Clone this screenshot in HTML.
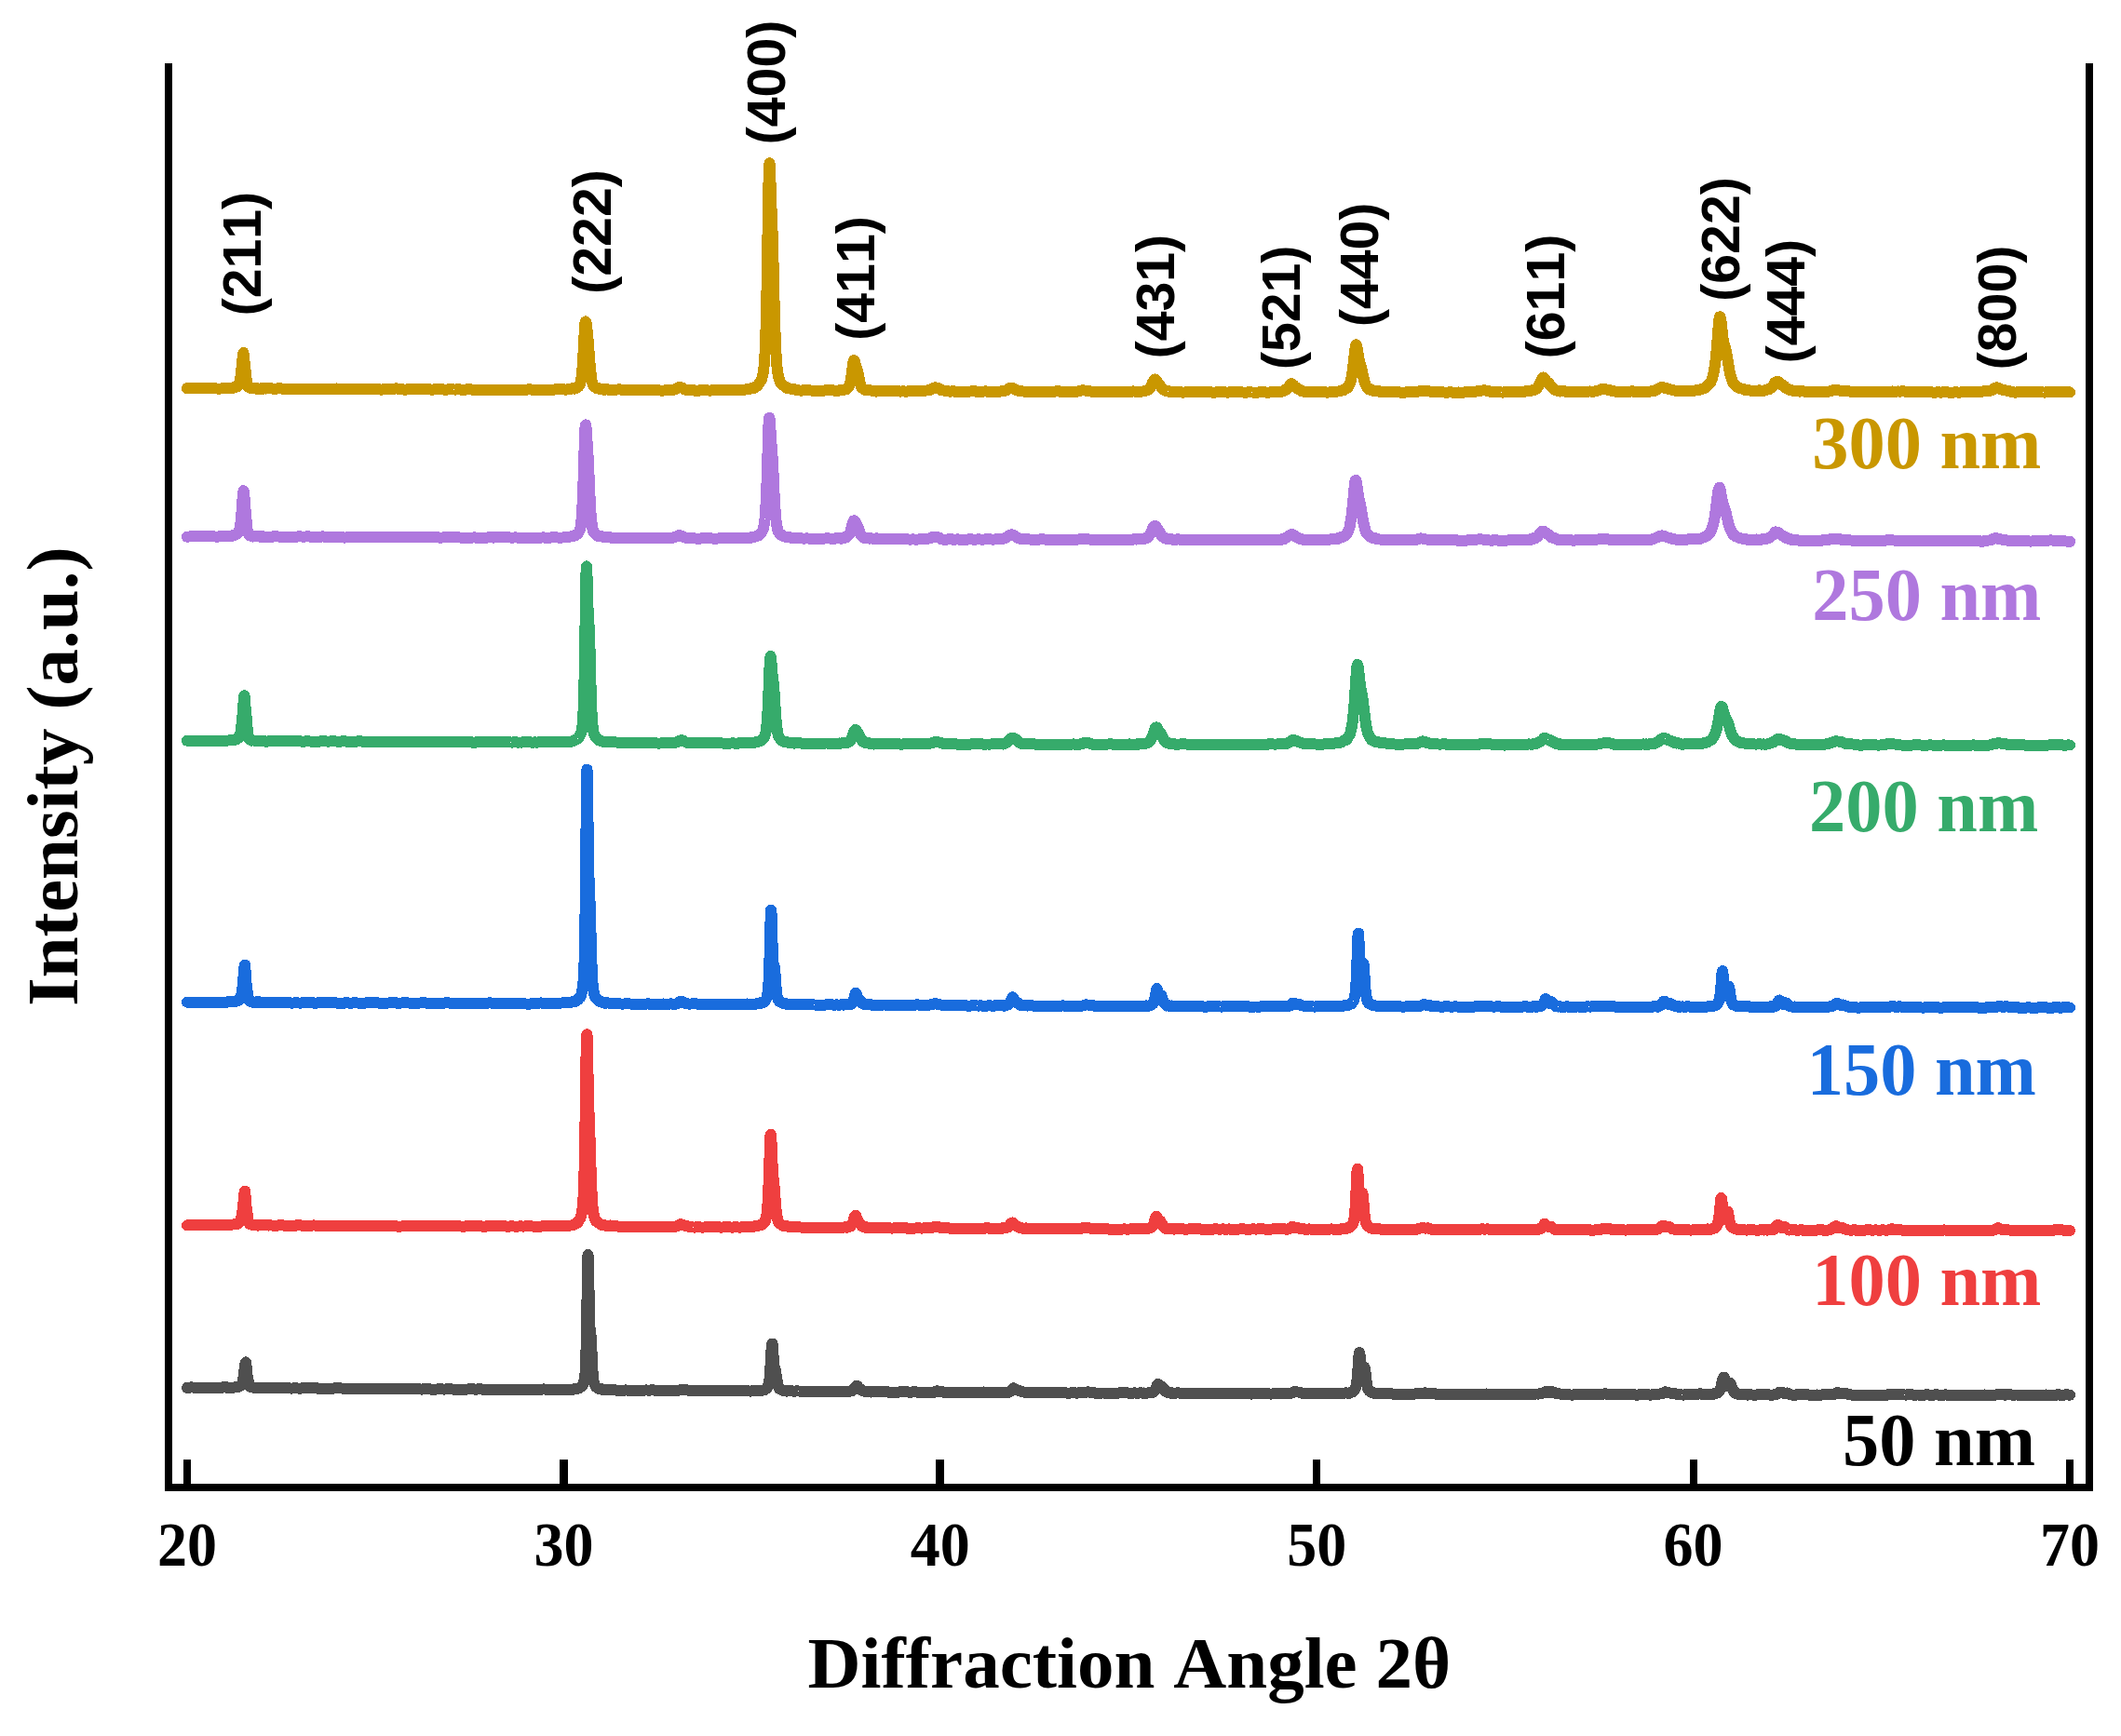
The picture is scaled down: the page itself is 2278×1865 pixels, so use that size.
<!DOCTYPE html>
<html lang="en"><head><meta charset="utf-8"><title>XRD patterns</title>
<style>html,body{margin:0;padding:0;background:#fff}body{width:2278px;height:1865px;overflow:hidden}svg{display:block}.ser{font-family:"Liberation Serif",serif;font-weight:bold}.san{font-family:"Liberation Sans",sans-serif;font-weight:bold}.cv{fill:none;stroke-width:12;stroke-linecap:round;stroke-linejoin:round}text{font-kerning:none}</style></head><body>
<svg width="2278" height="1865" viewBox="0 0 2278 1865">
<rect width="2278" height="1865" fill="#fff"/>
<path class="cv" shape-rendering="crispEdges" stroke="#4F4F4F" d="M201 1490.9L203 1490.7L205 1490.4L207 1490.5L209 1490.7L211 1490.6L213 1490.6L215 1490.7L217 1490.7L219 1490.7L221 1490.9L223 1490.9L225 1490.7L227 1490.8L229 1490.9L231 1490.7L233 1490.6L235 1490.8L237 1490.9L239 1490.5L241 1490.1L243 1490.2L244 1490.8L245 1491.2L246 1491.2L247 1491.1L248 1490.9L249 1490.8L250 1490.7L251 1490.5L252 1490.4L252.5 1490.2L253 1490.2L253.5 1490.3L254 1490.4L254.5 1490.3L255 1490.1L255.5 1490.0L256 1489.9L256.5 1489.7L257 1489.5L257.5 1489.2L258 1488.8L258.5 1488.4L259 1487.9L259.5 1487.2L260 1486.3L260.5 1484.8L261 1482.7L261.5 1479.7L262 1476.1L262.5 1471.9L263 1467.7L263.5 1464.5L264 1463.4L264.5 1467.6L265 1473.6L265.5 1477.6L266 1479.8L266.5 1482.1L267 1484.9L267.5 1487.2L268 1488.7L268.5 1489.3L269 1489.7L269.5 1490.1L270 1490.3L270.5 1490.2L271 1490.3L271.5 1490.5L272 1490.7L272.5 1490.8L273 1490.8L273.5 1491.0L274 1491.2L274.5 1491.2L275 1490.9L275.5 1490.8L276 1490.7L276.5 1490.9L277 1491.4L277.5 1491.3L278 1490.8L278.5 1490.8L279 1490.8L279.5 1490.6L280 1490.8L281 1491.1L282 1490.9L283 1490.8L284 1491.1L285 1491.2L286 1491.0L287 1491.0L288 1491.3L289 1491.3L290 1491.1L292 1491.2L294 1491.2L296 1490.9L298 1490.9L300 1490.8L302 1490.9L304 1491.2L306 1491.2L308 1491.2L310 1491.3L312 1491.5L314 1491.5L316 1491.3L318 1491.3L320 1491.5L322 1491.7L324 1491.4L326 1491.2L328 1491.3L330 1491.3L332 1491.5L334 1491.4L336 1491.1L338 1491.1L340 1491.3L342 1491.8L344 1492.2L346 1492.1L348 1491.8L350 1491.8L352 1491.9L354 1492.0L356 1491.9L358 1491.5L360 1491.3L362 1491.4L364 1491.5L366 1491.4L368 1491.6L370 1491.9L372 1492.0L374 1492.2L376 1492.2L378 1491.7L380 1491.5L382 1491.6L384 1491.7L386 1492.0L388 1492.0L390 1491.7L392 1491.7L394 1492.0L396 1492.2L398 1492.1L400 1492.1L402 1492.2L404 1492.1L406 1491.9L408 1491.9L410 1491.9L412 1492.1L414 1491.9L416 1491.6L418 1491.9L420 1492.2L422 1492.2L424 1492.0L426 1491.6L428 1491.6L430 1491.8L432 1491.9L434 1492.0L436 1491.9L438 1491.8L440 1492.2L442 1492.5L444 1492.3L446 1492.1L448 1492.1L450 1492.3L452 1492.5L454 1492.5L456 1492.1L458 1491.9L460 1492.1L462 1492.4L464 1492.7L466 1492.8L468 1492.6L470 1492.4L472 1492.3L474 1492.3L476 1492.5L478 1492.5L480 1492.3L482 1492.2L484 1492.3L486 1492.5L488 1492.7L490 1492.7L492 1492.5L494 1492.6L496 1492.5L498 1492.6L500 1492.7L502 1492.5L504 1492.4L506 1492.2L508 1492.2L510 1492.6L512 1492.6L514 1492.3L516 1492.2L518 1492.5L520 1492.9L522 1492.8L524 1492.6L526 1492.5L528 1492.5L530 1492.6L532 1492.9L534 1493.1L536 1493.0L538 1492.8L540 1492.9L542 1492.8L544 1492.6L546 1492.7L548 1492.8L550 1492.7L552 1492.8L554 1492.9L556 1492.8L558 1492.7L560 1492.9L562 1493.0L564 1493.0L566 1493.0L568 1493.0L570 1492.8L572 1492.7L574 1492.8L576 1492.9L578 1492.7L580 1492.7L582 1492.6L584 1492.4L586 1492.6L588 1492.9L590 1492.9L592 1492.9L594 1493.3L596 1493.4L598 1493.0L600 1492.8L602 1492.8L604 1493.0L606 1493.1L608 1493.1L610 1492.9L611 1492.8L612 1492.7L613 1492.7L614 1492.9L615 1492.8L616 1492.5L617 1492.1L618 1492.0L619 1491.9L620 1491.8L620.5 1491.8L621 1491.6L621.5 1491.3L622 1491.2L622.5 1491.0L623 1490.6L623.5 1490.1L624 1489.8L624.5 1489.7L625 1489.2L625.5 1488.4L626 1487.7L626.5 1486.5L627 1484.9L627.5 1483.1L628 1480.2L628.5 1475.2L629 1466.4L629.5 1451.2L630 1427.9L630.5 1397.0L631 1365.1L631.5 1348.1L632 1358.8L632.5 1385.7L633 1410.6L633.5 1425.8L634 1431.7L634.5 1434.2L635 1440.7L635.5 1451.9L636 1463.5L636.5 1472.8L637 1479.3L637.5 1483.2L638 1485.4L638.5 1486.8L639 1488.0L639.5 1489.1L640 1489.9L640.5 1490.3L641 1490.4L641.5 1490.8L642 1491.3L642.5 1491.5L643 1491.7L643.5 1491.8L644 1492.1L644.5 1492.2L645 1492.2L645.5 1492.1L646 1492.1L646.5 1492.4L647 1492.7L647.5 1492.6L648 1492.6L649 1492.7L650 1492.7L651 1492.7L652 1492.7L653 1492.9L654 1493.2L655 1493.0L656 1492.8L657 1493.0L658 1493.2L660 1493.3L662 1493.6L664 1493.7L666 1493.6L668 1493.9L670 1493.8L672 1493.4L674 1493.6L676 1493.8L678 1493.6L680 1493.7L682 1493.7L684 1493.7L686 1493.9L688 1494.0L690 1493.9L692 1493.6L694 1493.4L696 1493.6L698 1493.6L700 1493.3L702 1493.4L704 1493.9L706 1494.2L708 1494.3L710 1494.1L712 1493.9L714 1493.9L716 1494.0L718 1494.0L720 1493.8L722 1493.6L724 1493.7L726 1493.9L728 1493.7L730 1493.5L732 1493.1L734 1493.0L736 1493.1L738 1493.5L740 1493.6L742 1493.9L744 1494.2L746 1494.0L748 1493.8L750 1493.9L752 1494.0L754 1494.1L756 1494.2L758 1494.1L760 1494.1L762 1494.3L764 1494.2L766 1494.2L768 1494.3L770 1494.3L772 1494.3L774 1494.3L776 1494.3L778 1494.4L780 1494.4L782 1494.5L784 1494.4L786 1494.1L788 1493.9L790 1494.1L792 1494.3L794 1494.3L796 1494.2L798 1494.3L800 1494.3L802 1494.1L804 1494.4L806 1494.6L808 1494.3L809 1494.0L810 1494.0L811 1494.1L812 1493.7L813 1493.6L814 1494.0L815 1494.0L816 1493.9L817 1494.0L818 1493.8L818.5 1493.5L819 1493.5L819.5 1493.5L820 1493.4L820.5 1493.2L821 1493.2L821.5 1492.9L822 1492.4L822.5 1492.0L823 1491.9L823.5 1491.6L824 1490.8L824.5 1490.0L825 1489.0L825.5 1487.4L826 1484.9L826.5 1481.1L827 1475.7L827.5 1468.0L828 1458.7L828.5 1449.9L829 1443.9L829.5 1443.6L830 1448.9L830.5 1456.3L831 1462.7L831.5 1467.1L832 1469.6L832.5 1471.2L833 1473.1L833.5 1476.0L834 1479.3L834.5 1482.7L835 1485.7L835.5 1488.1L836 1489.7L836.5 1490.9L837 1491.7L837.5 1492.1L838 1492.5L838.5 1492.6L839 1492.7L839.5 1493.0L840 1493.4L840.5 1493.7L841 1493.5L841.5 1493.5L842 1493.8L842.5 1493.8L843 1493.7L843.5 1494.0L844 1494.2L844.5 1494.3L845 1494.6L845.5 1494.6L846.5 1494.4L847.5 1494.2L848.5 1494.1L849.5 1494.2L850.5 1494.4L851.5 1494.5L852.5 1494.6L853.5 1494.6L854.5 1494.5L855.5 1494.4L857.5 1494.5L859.5 1494.5L861.5 1494.6L863.5 1494.7L865.5 1494.9L867.5 1495.1L869.5 1494.9L871.5 1494.7L873.5 1494.8L875.5 1494.8L877.5 1494.9L879.5 1494.9L881.5 1495.0L883.5 1495.1L885.5 1495.0L887.5 1494.8L889.5 1494.9L891.5 1495.3L893.5 1495.5L895.5 1495.3L897.5 1495.1L899.5 1495.2L900.5 1495.1L901.5 1495.1L902.5 1495.2L903.5 1495.1L904.5 1495.0L905.5 1494.9L906.5 1494.8L907.5 1494.7L908.5 1494.8L909 1494.9L909.5 1494.8L910 1494.7L910.5 1494.7L911 1494.8L911.5 1494.9L912 1495.0L912.5 1494.8L913 1494.6L913.5 1494.4L914 1494.4L914.5 1494.2L915 1494.0L915.5 1493.9L916 1493.6L916.5 1493.2L917 1492.8L917.5 1492.3L918 1491.6L918.5 1490.8L919 1490.1L919.5 1489.3L920 1488.7L920.5 1488.9L921 1489.4L921.5 1489.9L922 1490.5L922.5 1491.1L923 1491.7L923.5 1491.9L924 1492.2L924.5 1492.6L925 1493.2L925.5 1493.6L926 1493.8L926.5 1493.9L927 1494.2L927.5 1494.4L928 1494.5L928.5 1494.7L929 1494.8L929.5 1494.8L930 1494.9L930.5 1494.9L931 1494.9L931.5 1494.9L932 1494.9L932.5 1494.9L933 1494.7L933.5 1494.6L934 1494.8L934.5 1495.0L935 1495.4L935.5 1495.6L936 1495.5L936.5 1495.4L937.5 1495.2L938.5 1495.3L939.5 1495.2L940.5 1495.1L941.5 1495.2L942.5 1495.1L943.5 1495.0L944.5 1495.3L945.5 1495.2L946.5 1495.2L948.5 1495.3L950.5 1495.0L952.5 1495.1L954.5 1495.8L956.5 1496.0L958.5 1495.7L960.5 1495.5L962.5 1495.5L964.5 1495.7L966.5 1495.2L968.5 1494.9L970.5 1495.2L972.5 1495.4L974.5 1495.4L976.5 1495.6L978.5 1495.6L980.5 1495.4L982.5 1495.4L984.5 1495.5L986.5 1495.8L988.5 1495.7L990.5 1495.5L992.5 1495.5L994.5 1495.6L996.5 1495.6L998.5 1495.7L1000.5 1495.9L1002.5 1495.9L1004.5 1495.0L1006.5 1494.4L1008.5 1494.7L1010.5 1494.9L1012.5 1495.4L1014.5 1495.8L1016.5 1495.9L1018.5 1495.8L1020.5 1495.8L1022.5 1496.1L1024.5 1496.2L1026.5 1496.0L1028.5 1495.9L1030.5 1495.8L1032.5 1495.7L1034.5 1495.7L1036.5 1495.9L1038.5 1495.8L1040.5 1495.9L1042.5 1496.0L1044.5 1496.1L1046.5 1496.1L1048.5 1496.4L1050.5 1496.3L1052.5 1496.0L1054.5 1495.7L1056.5 1495.5L1058.5 1495.6L1060.5 1495.7L1062.5 1495.7L1064.5 1496.0L1066.5 1496.3L1068.5 1496.2L1070.5 1495.8L1072.5 1495.8L1074.5 1496.0L1076.5 1496.1L1078.5 1496.2L1080.5 1496.1L1082.5 1495.9L1084.5 1495.2L1086.5 1493.4L1088.5 1491.3L1090.5 1492.3L1092.5 1493.3L1094.5 1493.9L1096.5 1494.7L1098.5 1495.3L1100.5 1495.7L1102.5 1495.9L1104.5 1496.1L1106.5 1496.2L1108.5 1496.2L1110.5 1496.3L1112.5 1496.4L1114.5 1496.3L1116.5 1496.0L1118.5 1495.7L1120.5 1496.0L1122.5 1496.3L1124.5 1496.2L1126.5 1496.0L1128.5 1495.9L1130.5 1496.0L1132.5 1496.0L1134.5 1496.0L1136.5 1496.1L1138.5 1496.3L1140.5 1496.3L1142.5 1496.3L1144.5 1496.4L1146.5 1496.6L1148.5 1496.6L1150.5 1496.3L1152.5 1496.3L1154.5 1496.4L1156.5 1496.6L1158.5 1496.4L1160.5 1496.2L1162.5 1496.4L1164.5 1496.3L1166.5 1495.6L1168.5 1495.4L1170.5 1495.6L1172.5 1495.7L1174.5 1496.1L1176.5 1496.6L1178.5 1496.8L1180.5 1496.9L1182.5 1496.6L1184.5 1496.5L1186.5 1496.6L1188.5 1496.8L1190.5 1496.9L1192.5 1496.9L1194.5 1497.0L1196.5 1497.1L1198.5 1496.9L1200.5 1496.6L1202.5 1496.3L1204.5 1496.1L1206.5 1496.2L1208.5 1496.4L1210.5 1496.4L1212.5 1496.7L1214.5 1496.9L1216.5 1496.6L1218.5 1496.4L1220.5 1496.6L1222.5 1496.7L1223.5 1496.5L1224.5 1496.4L1225.5 1496.4L1226.5 1496.6L1227.5 1496.7L1228.5 1496.5L1229.5 1496.6L1230.5 1496.7L1231.5 1496.6L1232.5 1496.5L1233 1496.4L1233.5 1496.4L1234 1496.4L1234.5 1496.3L1235 1496.4L1235.5 1496.1L1236 1495.7L1236.5 1495.5L1237 1495.6L1237.5 1495.8L1238 1495.9L1238.5 1495.8L1239 1495.4L1239.5 1494.8L1240 1494.2L1240.5 1493.7L1241 1492.7L1241.5 1491.2L1242 1490.1L1242.5 1489.1L1243 1487.9L1243.5 1487.1L1244 1487.3L1244.5 1488.0L1245 1488.6L1245.5 1489.4L1246 1490.2L1246.5 1490.4L1247 1490.1L1247.5 1489.9L1248 1489.8L1248.5 1489.9L1249 1490.6L1249.5 1491.2L1250 1491.8L1250.5 1492.7L1251 1493.5L1251.5 1494.2L1252 1494.8L1252.5 1495.3L1253 1495.6L1253.5 1495.7L1254 1495.9L1254.5 1496.1L1255 1496.4L1255.5 1496.5L1256 1496.4L1256.5 1496.4L1257 1496.6L1257.5 1496.3L1258 1496.1L1258.5 1496.2L1259 1496.4L1259.5 1496.6L1260 1496.7L1261 1496.8L1262 1496.5L1263 1496.6L1264 1496.5L1265 1496.3L1266 1496.4L1267 1496.6L1268 1496.7L1269 1496.9L1270 1497.0L1272 1497.1L1274 1497.2L1276 1497.0L1278 1496.8L1280 1496.8L1282 1496.7L1284 1496.9L1286 1497.0L1288 1497.1L1290 1497.2L1292 1497.2L1294 1497.1L1296 1496.8L1298 1496.9L1300 1497.2L1302 1497.0L1304 1496.7L1306 1496.6L1308 1496.7L1310 1496.8L1312 1496.8L1314 1496.5L1316 1496.5L1318 1496.6L1320 1496.6L1322 1496.7L1324 1496.9L1326 1497.0L1328 1497.0L1330 1497.0L1332 1497.3L1334 1497.3L1336 1497.2L1338 1497.0L1340 1497.0L1342 1497.3L1344 1497.6L1346 1497.2L1348 1496.8L1350 1496.6L1352 1496.6L1354 1496.9L1356 1497.2L1358 1497.3L1360 1497.4L1362 1497.4L1364 1497.5L1366 1497.5L1368 1497.4L1370 1497.4L1372 1497.3L1374 1497.0L1376 1497.0L1378 1497.2L1380 1497.0L1382 1496.7L1384 1496.9L1386 1496.9L1388 1496.3L1390 1495.2L1392 1495.3L1394 1495.5L1396 1495.7L1398 1496.6L1400 1497.2L1402 1497.3L1404 1497.3L1406 1497.2L1408 1497.2L1410 1497.2L1412 1497.2L1414 1497.3L1416 1497.3L1418 1497.2L1420 1497.1L1422 1497.1L1424 1497.0L1426 1497.1L1428 1497.4L1430 1497.3L1432 1497.1L1434 1497.0L1436 1497.1L1438 1497.4L1440 1497.3L1441 1497.1L1442 1497.1L1443 1496.9L1444 1496.6L1445 1496.4L1446 1496.3L1447 1496.7L1448 1496.9L1449 1496.8L1449.5 1496.4L1450 1496.0L1450.5 1495.9L1451 1495.9L1451.5 1495.7L1452 1495.3L1452.5 1495.3L1453 1495.2L1453.5 1494.7L1454 1494.0L1454.5 1493.3L1455 1492.8L1455.5 1492.0L1456 1490.6L1456.5 1488.7L1457 1486.0L1457.5 1482.1L1458 1476.8L1458.5 1470.1L1459 1462.6L1459.5 1456.1L1460 1453.1L1460.5 1454.9L1461 1460.4L1461.5 1466.9L1462 1472.4L1462.5 1476.2L1463 1477.8L1463.5 1477.4L1464 1475.4L1464.5 1472.4L1465 1469.6L1465.5 1468.7L1466 1470.5L1466.5 1474.7L1467 1479.4L1467.5 1483.4L1468 1486.7L1468.5 1489.4L1469 1491.4L1469.5 1492.6L1470 1493.4L1470.5 1494.2L1471 1494.5L1471.5 1494.8L1472 1495.3L1472.5 1495.6L1473 1495.8L1473.5 1496.2L1474 1496.5L1474.5 1496.5L1475 1496.5L1475.5 1496.4L1476 1496.5L1476.5 1496.8L1477.5 1497.2L1478.5 1497.2L1479.5 1497.0L1480.5 1497.2L1481.5 1497.2L1482.5 1496.8L1483.5 1496.9L1484.5 1497.3L1485.5 1497.4L1486.5 1497.3L1488.5 1497.4L1490.5 1497.2L1492.5 1497.1L1494.5 1497.4L1496.5 1497.7L1498.5 1497.8L1500.5 1497.8L1502.5 1497.7L1504.5 1497.6L1506.5 1497.6L1508.5 1497.6L1510.5 1497.7L1512.5 1497.7L1514.5 1497.6L1516.5 1497.6L1518.5 1497.6L1520.5 1497.4L1522.5 1497.2L1524.5 1497.2L1526.5 1497.1L1528.5 1496.8L1530.5 1496.4L1532.5 1496.7L1534.5 1496.9L1536.5 1496.9L1538.5 1497.0L1540.5 1497.1L1542.5 1497.6L1544.5 1498.0L1546.5 1497.9L1548.5 1497.8L1550.5 1497.7L1552.5 1497.9L1554.5 1498.2L1556.5 1498.0L1558.5 1497.8L1560.5 1498.0L1562.5 1498.1L1564.5 1497.8L1566.5 1497.6L1568.5 1497.7L1570.5 1497.9L1572.5 1497.8L1574.5 1497.7L1576.5 1497.9L1578.5 1498.2L1580.5 1498.1L1582.5 1498.2L1584.5 1498.3L1586.5 1498.0L1588.5 1498.0L1590.5 1498.1L1592.5 1498.0L1594.5 1497.6L1596.5 1497.5L1598.5 1497.7L1600.5 1497.8L1602.5 1498.1L1604.5 1498.2L1606.5 1498.1L1608.5 1498.1L1610.5 1497.7L1612.5 1497.6L1614.5 1497.9L1616.5 1498.0L1618.5 1498.2L1620.5 1498.1L1622.5 1497.9L1624.5 1497.9L1626.5 1497.9L1628.5 1497.8L1630.5 1497.9L1632.5 1498.0L1634.5 1498.1L1636.5 1498.1L1638.5 1498.2L1640.5 1498.1L1642.5 1497.8L1644.5 1497.6L1646.5 1497.6L1648.5 1497.6L1650.5 1497.5L1652.5 1497.5L1654.5 1497.2L1656.5 1496.7L1658.5 1496.4L1660.5 1494.9L1662.5 1494.8L1664.5 1495.9L1666.5 1495.4L1668.5 1495.4L1670.5 1496.7L1672.5 1497.3L1674.5 1497.4L1676.5 1497.6L1678.5 1498.1L1680.5 1498.5L1682.5 1498.3L1684.5 1498.3L1686.5 1498.5L1688.5 1498.6L1690.5 1498.3L1692.5 1498.0L1694.5 1498.2L1696.5 1498.2L1698.5 1498.0L1700.5 1498.0L1702.5 1497.9L1704.5 1498.2L1706.5 1498.4L1708.5 1498.2L1710.5 1497.9L1712.5 1498.0L1714.5 1498.2L1716.5 1498.3L1718.5 1498.1L1720.5 1497.8L1722.5 1497.5L1724.5 1497.4L1726.5 1497.8L1728.5 1497.8L1730.5 1497.6L1732.5 1497.8L1734.5 1498.1L1736.5 1498.3L1738.5 1498.4L1740.5 1498.3L1742.5 1498.2L1744.5 1498.3L1746.5 1498.3L1748.5 1498.1L1750.5 1498.1L1752.5 1498.2L1754.5 1498.2L1756.5 1498.5L1758.5 1498.7L1760.5 1498.4L1762.5 1498.0L1764.5 1498.1L1766.5 1498.3L1768.5 1498.3L1770.5 1498.4L1772.5 1498.6L1774.5 1498.4L1776.5 1498.0L1778.5 1497.9L1780.5 1497.8L1782.5 1497.5L1784.5 1497.3L1786.5 1496.4L1788.5 1495.3L1790.5 1495.8L1792.5 1496.5L1794.5 1496.6L1796.5 1496.7L1798.5 1497.2L1800.5 1497.6L1802.5 1498.0L1804.5 1498.3L1806.5 1498.5L1808.5 1498.5L1810.5 1498.2L1812.5 1498.1L1814.5 1498.3L1816.5 1498.2L1818.5 1498.2L1820.5 1498.3L1822.5 1498.0L1824.5 1497.5L1826.5 1497.4L1828.5 1497.8L1830.5 1498.4L1831.5 1498.4L1832.5 1498.1L1833.5 1497.9L1834.5 1497.9L1835.5 1498.0L1836.5 1497.9L1837.5 1498.1L1838.5 1498.2L1839.5 1497.9L1840 1497.5L1840.5 1497.3L1841 1497.4L1841.5 1497.2L1842 1497.0L1842.5 1497.0L1843 1496.8L1843.5 1496.7L1844 1496.5L1844.5 1496.3L1845 1496.2L1845.5 1495.8L1846 1495.3L1846.5 1494.6L1847 1493.6L1847.5 1492.8L1848 1491.4L1848.5 1489.4L1849 1487.3L1849.5 1485.2L1850 1483.0L1850.5 1481.2L1851 1480.0L1851.5 1479.5L1852 1480.5L1852.5 1482.6L1853 1484.5L1853.5 1486.0L1854 1487.3L1854.5 1488.3L1855 1488.7L1855.5 1488.9L1856 1488.3L1856.5 1487.1L1857 1486.3L1857.5 1485.8L1858 1485.7L1858.5 1486.4L1859 1487.7L1859.5 1489.0L1860 1490.4L1860.5 1491.8L1861 1493.0L1861.5 1494.2L1862 1494.6L1862.5 1494.9L1863 1495.6L1863.5 1496.2L1864 1496.7L1864.5 1496.9L1865 1496.6L1865.5 1496.6L1866 1497.1L1866.5 1497.6L1867 1497.8L1867.5 1497.8L1868.5 1497.8L1869.5 1497.6L1870.5 1497.6L1871.5 1497.9L1872.5 1498.2L1873.5 1498.2L1874.5 1498.2L1875.5 1498.4L1876.5 1498.6L1877.5 1498.3L1879.5 1498.3L1881.5 1498.5L1883.5 1498.6L1885.5 1498.6L1887.5 1498.3L1889.5 1498.2L1891.5 1498.4L1893.5 1498.3L1895.5 1498.1L1897.5 1498.1L1899.5 1498.3L1901.5 1498.7L1903.5 1498.7L1905.5 1498.4L1907.5 1497.9L1909.5 1496.9L1911.5 1495.5L1913.5 1495.5L1915.5 1496.7L1917.5 1497.0L1919.5 1496.5L1921.5 1497.4L1923.5 1498.3L1925.5 1498.7L1927.5 1498.9L1929.5 1498.4L1931.5 1498.1L1933.5 1498.3L1935.5 1498.3L1937.5 1498.1L1939.5 1498.0L1941.5 1498.3L1943.5 1498.6L1945.5 1498.6L1947.5 1498.7L1949.5 1498.6L1951.5 1498.5L1953.5 1498.7L1955.5 1498.6L1957.5 1498.3L1959.5 1498.1L1961.5 1498.1L1963.5 1498.2L1965.5 1498.2L1967.5 1498.2L1969.5 1497.9L1971.5 1497.0L1973.5 1496.1L1975.5 1496.5L1977.5 1497.4L1979.5 1497.5L1981.5 1497.1L1983.5 1497.3L1985.5 1497.9L1987.5 1498.3L1989.5 1498.7L1991.5 1498.8L1993.5 1498.7L1995.5 1498.7L1997.5 1498.7L1999.5 1498.7L2001.5 1498.9L2003.5 1499.1L2005.5 1499.1L2007.5 1499.0L2009.5 1498.9L2011.5 1498.7L2013.5 1498.5L2015.5 1498.5L2017.5 1498.7L2019.5 1498.9L2021.5 1498.9L2023.5 1498.8L2025.5 1498.8L2027.5 1498.4L2029.5 1498.1L2031.5 1498.2L2033.5 1498.0L2035.5 1497.9L2037.5 1498.1L2039.5 1498.1L2041.5 1497.8L2043.5 1498.0L2045.5 1498.5L2047.5 1498.5L2049.5 1498.3L2051.5 1498.1L2053.5 1498.4L2055.5 1498.6L2057.5 1498.6L2059.5 1498.5L2061.5 1498.5L2063.5 1498.6L2065.5 1498.7L2067.5 1498.5L2069.5 1498.4L2071.5 1498.5L2073.5 1498.8L2075.5 1498.8L2077.5 1498.5L2079.5 1498.4L2081.5 1498.5L2083.5 1498.8L2085.5 1498.9L2087.5 1498.7L2089.5 1498.4L2091.5 1498.6L2093.5 1498.8L2095.5 1498.9L2097.5 1498.8L2099.5 1498.7L2101.5 1498.8L2103.5 1499.0L2105.5 1498.9L2107.5 1498.6L2109.5 1498.6L2111.5 1498.8L2113.5 1498.7L2115.5 1498.8L2117.5 1499.0L2119.5 1499.0L2121.5 1499.0L2123.5 1498.9L2125.5 1498.7L2127.5 1498.9L2129.5 1498.7L2131.5 1498.5L2133.5 1498.7L2135.5 1498.9L2137.5 1498.8L2139.5 1498.8L2141.5 1498.8L2143.5 1498.5L2145.5 1498.2L2147.5 1497.8L2149.5 1497.8L2151.5 1498.4L2153.5 1498.6L2155.5 1497.9L2157.5 1497.8L2159.5 1498.4L2161.5 1498.6L2163.5 1498.6L2165.5 1498.5L2167.5 1498.5L2169.5 1498.7L2171.5 1498.8L2173.5 1498.7L2175.5 1498.8L2177.5 1498.9L2179.5 1499.0L2181.5 1499.2L2183.5 1499.0L2185.5 1498.9L2187.5 1499.0L2189.5 1499.0L2191.5 1498.8L2193.5 1498.8L2195.5 1498.7L2197.5 1498.5L2199.5 1498.6L2201.5 1498.7L2203.5 1498.9L2205.5 1499.0L2207.5 1498.8L2209.5 1498.4L2211.5 1498.4L2213.5 1498.8L2215.5 1498.8L2217.5 1498.5L2219.5 1498.4L2221.5 1498.5L2223 1498.7"/>
<path class="cv" shape-rendering="crispEdges" stroke="#EF3F3F" d="M201 1316.4L203 1316.1L205 1315.7L207 1315.5L209 1315.8L211 1316.0L213 1316.0L215 1316.2L217 1316.1L219 1315.9L221 1315.8L223 1316.0L225 1316.3L227 1316.2L229 1315.8L231 1315.8L233 1316.3L235 1316.5L237 1316.1L239 1316.0L241 1316.1L242 1316.1L243 1316.2L244 1316.4L245 1316.2L246 1316.0L247 1315.9L248 1315.7L249 1315.6L250 1315.5L251 1315.4L251.5 1315.3L252 1315.3L252.5 1315.2L253 1315.2L253.5 1315.1L254 1315.2L254.5 1315.0L255 1314.6L255.5 1314.5L256 1314.2L256.5 1313.6L257 1313.3L257.5 1313.0L258 1312.2L258.5 1311.0L259 1309.4L259.5 1307.2L260 1303.9L260.5 1300.2L261 1296.0L261.5 1291.0L262 1285.8L262.5 1281.5L263 1279.5L263.5 1283.9L264 1291.1L264.5 1296.7L265 1300.5L265.5 1303.8L266 1307.5L266.5 1310.6L267 1312.6L267.5 1313.9L268 1314.8L268.5 1314.9L269 1315.1L269.5 1315.5L270 1315.4L270.5 1315.5L271 1315.9L271.5 1316.0L272 1316.1L272.5 1316.2L273 1316.4L273.5 1316.4L274 1316.2L274.5 1316.0L275 1315.8L275.5 1315.8L276 1316.0L276.5 1316.0L277 1316.4L277.5 1316.6L278 1316.2L278.5 1316.0L279 1316.2L280 1316.3L281 1316.2L282 1316.2L283 1316.2L284 1316.4L285 1316.5L286 1316.3L287 1316.3L288 1316.5L289 1316.5L291 1316.4L293 1316.6L295 1316.7L297 1316.7L299 1316.4L301 1316.1L303 1316.3L305 1316.6L307 1316.6L309 1316.7L311 1317.1L313 1317.1L315 1316.9L317 1316.7L319 1316.2L321 1316.1L323 1316.5L325 1316.7L327 1316.7L329 1316.8L331 1316.7L333 1316.8L335 1316.6L337 1316.4L339 1316.6L341 1316.9L343 1316.9L345 1316.6L347 1316.5L349 1316.6L351 1316.8L353 1317.1L355 1316.9L357 1316.7L359 1316.8L361 1316.8L363 1316.6L365 1316.8L367 1317.1L369 1317.1L371 1316.8L373 1316.7L375 1316.6L377 1316.6L379 1316.9L381 1317.0L383 1316.8L385 1316.5L387 1316.6L389 1316.9L391 1316.9L393 1316.9L395 1317.0L397 1317.1L399 1316.8L401 1316.7L403 1316.6L405 1316.7L407 1317.0L409 1317.1L411 1317.0L413 1316.7L415 1316.7L417 1316.8L419 1316.9L421 1316.9L423 1316.9L425 1317.2L427 1317.6L429 1317.6L431 1317.5L433 1317.3L435 1317.2L437 1317.2L439 1317.2L441 1317.0L443 1316.9L445 1317.0L447 1317.2L449 1317.2L451 1317.1L453 1316.9L455 1316.9L457 1317.0L459 1317.3L461 1317.3L463 1317.2L465 1317.0L467 1316.7L469 1316.8L471 1317.2L473 1317.4L475 1317.1L477 1317.0L479 1317.0L481 1316.7L483 1316.7L485 1317.0L487 1317.2L489 1317.3L491 1317.5L493 1317.4L495 1317.5L497 1317.8L499 1317.6L501 1317.1L503 1317.2L505 1317.4L507 1317.1L509 1316.9L511 1316.9L513 1316.9L515 1317.0L517 1317.4L519 1317.8L521 1317.8L523 1317.3L525 1317.0L527 1317.2L529 1317.4L531 1317.4L533 1317.2L535 1317.1L537 1317.1L539 1317.0L541 1317.1L543 1317.5L545 1317.7L547 1317.6L549 1317.2L551 1317.4L553 1317.6L555 1317.5L557 1317.5L559 1317.4L561 1317.5L563 1317.5L565 1317.3L567 1317.2L569 1317.3L571 1317.4L573 1317.6L575 1317.7L577 1317.8L579 1317.8L581 1317.6L583 1317.3L585 1317.2L587 1317.1L589 1317.2L591 1317.3L593 1317.2L595 1317.3L597 1317.3L599 1317.1L601 1317.2L603 1317.5L605 1317.3L607 1316.8L609 1316.5L610 1316.5L611 1316.5L612 1316.6L613 1316.5L614 1316.4L615 1316.1L616 1315.5L617 1315.0L618 1314.7L619 1314.3L619.5 1313.9L620 1313.6L620.5 1313.4L621 1312.8L621.5 1312.0L622 1310.9L622.5 1310.1L623 1309.5L623.5 1308.4L624 1306.6L624.5 1304.8L625 1302.3L625.5 1298.9L626 1294.2L626.5 1286.8L627 1275.6L627.5 1259.0L628 1235.7L628.5 1205.6L629 1170.4L629.5 1135.9L630 1112.9L630.5 1111.2L631 1128.6L631.5 1153.8L632 1177.1L632.5 1195.0L633 1208.8L633.5 1222.1L634 1237.6L634.5 1254.1L635 1268.5L635.5 1280.3L636 1289.6L636.5 1296.3L637 1301.0L637.5 1304.0L638 1306.3L638.5 1308.1L639 1309.4L639.5 1310.5L640 1311.5L640.5 1312.2L641 1312.6L641.5 1313.0L642 1313.3L642.5 1313.5L643 1313.8L643.5 1314.2L644 1314.5L644.5 1314.9L645 1315.3L645.5 1315.8L646 1315.8L646.5 1315.5L647.5 1315.7L648.5 1316.1L649.5 1316.4L650.5 1316.7L651.5 1316.9L652.5 1317.0L653.5 1317.1L654.5 1316.8L655.5 1316.5L656.5 1316.6L658.5 1317.0L660.5 1317.1L662.5 1317.4L664.5 1317.7L666.5 1317.8L668.5 1317.8L670.5 1317.9L672.5 1317.9L674.5 1317.7L676.5 1317.7L678.5 1317.7L680.5 1317.9L682.5 1318.1L684.5 1317.6L686.5 1317.6L688.5 1317.9L690.5 1317.8L692.5 1317.8L694.5 1318.1L696.5 1318.2L698.5 1318.3L700.5 1318.1L702.5 1317.8L704.5 1318.0L706.5 1318.1L708.5 1317.9L710.5 1317.9L712.5 1318.2L714.5 1318.4L716.5 1318.2L718.5 1318.0L720.5 1318.3L722.5 1318.2L724.5 1317.9L726.5 1317.5L728.5 1316.6L730.5 1315.2L732.5 1315.5L734.5 1316.5L736.5 1316.9L738.5 1317.3L740.5 1317.9L742.5 1318.3L744.5 1318.5L746.5 1318.5L748.5 1318.3L750.5 1318.2L752.5 1318.5L754.5 1318.6L756.5 1318.5L758.5 1318.1L760.5 1317.9L762.5 1318.0L764.5 1318.1L766.5 1318.3L768.5 1318.3L770.5 1318.1L772.5 1318.3L774.5 1318.6L776.5 1318.5L778.5 1318.3L780.5 1318.4L782.5 1318.4L784.5 1318.5L786.5 1318.6L788.5 1318.4L790.5 1318.4L792.5 1318.5L794.5 1318.6L796.5 1318.4L798.5 1318.2L800.5 1318.1L802.5 1318.0L804.5 1317.9L806.5 1318.0L807.5 1318.0L808.5 1317.9L809.5 1317.6L810.5 1317.3L811.5 1317.4L812.5 1317.5L813.5 1317.2L814.5 1316.8L815.5 1316.4L816.5 1315.9L817 1315.7L817.5 1315.9L818 1315.8L818.5 1315.3L819 1314.8L819.5 1314.5L820 1314.3L820.5 1313.8L821 1313.2L821.5 1312.5L822 1311.2L822.5 1309.3L823 1307.2L823.5 1304.4L824 1300.0L824.5 1293.7L825 1285.1L825.5 1273.9L826 1260.0L826.5 1244.2L827 1229.4L827.5 1219.6L828 1218.7L828.5 1226.5L829 1238.6L829.5 1249.9L830 1258.7L830.5 1265.1L831 1269.8L831.5 1274.5L832 1280.2L832.5 1286.9L833 1293.4L833.5 1299.0L834 1303.4L834.5 1306.7L835 1309.0L835.5 1310.7L836 1312.4L836.5 1313.6L837 1314.2L837.5 1314.6L838 1314.7L838.5 1315.0L839 1315.4L839.5 1316.0L840 1316.2L840.5 1316.2L841 1316.3L841.5 1316.8L842 1317.3L842.5 1317.3L843 1317.2L843.5 1317.4L844 1317.5L845 1317.4L846 1317.3L847 1317.7L848 1318.2L849 1318.2L850 1317.9L851 1317.8L852 1318.0L853 1318.2L854 1318.2L856 1318.4L858 1318.4L860 1318.5L862 1318.7L864 1318.8L866 1318.8L868 1318.6L870 1318.6L872 1318.7L874 1318.9L876 1319.0L878 1318.9L880 1318.8L882 1318.9L884 1318.8L886 1318.6L888 1318.6L890 1318.8L892 1318.9L894 1318.9L896 1318.8L898 1318.6L899 1318.7L900 1318.9L901 1318.9L902 1318.7L903 1318.5L904 1318.5L905 1318.7L906 1318.5L907 1318.4L907.5 1318.3L908 1318.2L908.5 1318.5L909 1318.7L909.5 1318.6L910 1318.3L910.5 1318.0L911 1317.9L911.5 1318.0L912 1318.0L912.5 1317.8L913 1317.6L913.5 1317.5L914 1316.9L914.5 1316.0L915 1315.3L915.5 1314.6L916 1313.4L916.5 1311.7L917 1309.9L917.5 1308.3L918 1306.9L918.5 1306.0L919 1305.9L919.5 1306.6L920 1308.0L920.5 1309.4L921 1310.4L921.5 1311.5L922 1312.4L922.5 1313.0L923 1313.8L923.5 1314.5L924 1315.2L924.5 1315.7L925 1316.1L925.5 1317.0L926 1317.6L926.5 1317.7L927 1317.8L927.5 1317.8L928 1318.0L928.5 1318.3L929 1318.5L929.5 1318.7L930 1318.7L930.5 1318.5L931 1318.4L931.5 1318.9L932 1319.2L932.5 1318.9L933 1318.7L933.5 1319.1L934 1319.3L934.5 1318.9L935 1318.8L936 1319.0L937 1319.3L938 1319.4L939 1318.8L940 1318.6L941 1319.0L942 1319.0L943 1318.7L944 1318.9L945 1319.2L947 1319.2L949 1319.2L951 1319.3L953 1319.4L955 1319.4L957 1319.5L959 1319.5L961 1319.3L963 1319.4L965 1319.5L967 1319.3L969 1319.1L971 1319.1L973 1319.3L975 1319.7L977 1319.8L979 1319.8L981 1319.7L983 1319.5L985 1319.4L987 1319.4L989 1319.5L991 1319.5L993 1319.3L995 1319.4L997 1319.4L999 1319.2L1001 1318.8L1003 1318.2L1005 1317.7L1007 1318.1L1009 1318.5L1011 1319.0L1013 1319.4L1015 1319.3L1017 1319.2L1019 1319.4L1021 1319.7L1023 1319.6L1025 1319.5L1027 1319.7L1029 1319.9L1031 1320.0L1033 1320.0L1035 1319.8L1037 1319.7L1039 1319.8L1041 1320.0L1043 1320.1L1045 1320.0L1047 1319.8L1049 1319.7L1051 1319.7L1053 1319.8L1055 1320.1L1057 1320.0L1059 1319.3L1061 1319.2L1063 1319.7L1065 1319.8L1067 1319.6L1068 1319.5L1069 1319.6L1070 1319.7L1071 1319.7L1072 1319.8L1073 1319.9L1074 1319.8L1075 1319.8L1076 1319.8L1076.5 1319.5L1077 1319.1L1077.5 1319.1L1078 1319.4L1078.5 1319.3L1079 1319.2L1079.5 1319.2L1080 1319.1L1080.5 1319.0L1081 1318.7L1081.5 1318.6L1082 1318.7L1082.5 1318.4L1083 1318.2L1083.5 1318.0L1084 1317.5L1084.5 1316.5L1085 1315.4L1085.5 1314.6L1086 1314.2L1086.5 1313.9L1087 1313.6L1087.5 1313.5L1088 1313.9L1088.5 1314.4L1089 1315.0L1089.5 1315.6L1090 1316.1L1090.5 1316.4L1091 1316.7L1091.5 1316.9L1092 1317.2L1092.5 1317.6L1093 1318.0L1093.5 1318.3L1094 1318.4L1094.5 1318.6L1095 1318.9L1095.5 1318.9L1096 1319.0L1096.5 1319.1L1097 1319.1L1097.5 1319.2L1098 1319.5L1098.5 1319.7L1099 1319.8L1099.5 1319.7L1100 1319.8L1100.5 1320.1L1101 1320.3L1101.5 1319.9L1102 1319.4L1102.5 1319.6L1103 1320.2L1104 1320.4L1105 1320.0L1106 1319.8L1107 1320.0L1108 1319.9L1109 1319.8L1110 1319.9L1111 1319.8L1112 1319.9L1113 1320.1L1115 1319.8L1117 1320.0L1119 1320.3L1121 1320.1L1123 1319.8L1125 1319.9L1127 1320.0L1129 1319.8L1131 1319.7L1133 1319.7L1135 1319.9L1137 1320.3L1139 1320.2L1141 1320.1L1143 1320.1L1145 1320.0L1147 1320.0L1149 1320.4L1151 1320.4L1153 1320.2L1155 1320.4L1157 1320.5L1159 1320.4L1161 1320.0L1163 1319.3L1165 1318.6L1167 1318.7L1169 1319.2L1171 1319.6L1173 1320.0L1175 1320.2L1177 1320.2L1179 1320.0L1181 1320.1L1183 1320.4L1185 1320.5L1187 1320.2L1189 1320.2L1191 1320.6L1193 1320.8L1195 1320.8L1197 1320.7L1199 1320.5L1201 1320.7L1203 1320.9L1205 1320.6L1207 1320.4L1209 1320.5L1211 1320.7L1213 1320.5L1215 1320.2L1217 1320.1L1219 1319.8L1221 1319.5L1222 1319.6L1223 1319.8L1224 1320.1L1225 1320.2L1226 1320.2L1227 1320.4L1228 1320.5L1229 1320.0L1230 1319.9L1230.5 1320.4L1231 1320.5L1231.5 1319.9L1232 1319.5L1232.5 1319.6L1233 1319.8L1233.5 1319.8L1234 1319.5L1234.5 1319.4L1235 1319.2L1235.5 1318.8L1236 1318.7L1236.5 1318.8L1237 1318.5L1237.5 1318.0L1238 1317.5L1238.5 1316.7L1239 1315.3L1239.5 1313.8L1240 1312.0L1240.5 1310.2L1241 1308.5L1241.5 1307.1L1242 1306.7L1242.5 1307.6L1243 1308.9L1243.5 1310.1L1244 1311.2L1244.5 1311.7L1245 1312.0L1245.5 1311.8L1246 1311.4L1246.5 1311.8L1247 1313.0L1247.5 1313.9L1248 1314.7L1248.5 1316.0L1249 1317.0L1249.5 1317.4L1250 1318.0L1250.5 1318.7L1251 1319.1L1251.5 1319.3L1252 1319.7L1252.5 1319.9L1253 1320.1L1253.5 1320.4L1254 1320.4L1254.5 1320.5L1255 1320.3L1255.5 1320.1L1256 1320.2L1256.5 1320.4L1257 1320.4L1257.5 1320.2L1258 1319.9L1259 1319.9L1260 1320.2L1261 1320.6L1262 1320.5L1263 1320.1L1264 1320.1L1265 1320.3L1266 1320.4L1267 1320.4L1268 1320.2L1270 1320.2L1272 1320.6L1274 1320.7L1276 1320.5L1278 1320.4L1280 1320.3L1282 1320.3L1284 1320.5L1286 1320.4L1288 1320.2L1290 1320.5L1292 1320.9L1294 1320.9L1296 1320.7L1298 1320.7L1300 1320.9L1302 1320.7L1304 1320.4L1306 1320.4L1308 1320.5L1310 1320.6L1312 1320.5L1314 1320.4L1316 1320.7L1318 1320.6L1320 1320.4L1322 1320.7L1324 1320.8L1326 1320.8L1328 1320.7L1330 1320.6L1332 1320.4L1334 1320.2L1336 1320.4L1338 1320.6L1340 1320.8L1342 1320.8L1344 1320.5L1346 1320.3L1348 1320.5L1350 1320.5L1352 1320.3L1354 1320.4L1356 1320.4L1358 1320.5L1360 1320.7L1362 1320.9L1364 1320.8L1366 1320.5L1368 1320.3L1370 1320.1L1372 1320.2L1374 1320.4L1376 1320.3L1378 1320.1L1380 1320.5L1382 1320.7L1384 1320.2L1386 1319.3L1388 1317.8L1390 1318.4L1392 1319.0L1394 1319.1L1396 1319.9L1398 1320.0L1400 1320.3L1402 1320.9L1404 1320.8L1406 1320.4L1408 1320.6L1410 1320.8L1412 1320.6L1414 1320.5L1416 1320.9L1418 1320.9L1420 1320.8L1422 1320.7L1424 1320.6L1426 1320.6L1428 1320.6L1430 1320.4L1432 1320.6L1434 1320.7L1436 1320.7L1437 1320.8L1438 1320.9L1439 1320.8L1440 1320.5L1441 1320.3L1442 1320.2L1443 1319.9L1444 1319.7L1445 1319.8L1446 1319.8L1446.5 1319.5L1447 1319.1L1447.5 1319.2L1448 1319.3L1448.5 1319.1L1449 1318.9L1449.5 1318.4L1450 1318.1L1450.5 1317.8L1451 1317.3L1451.5 1316.7L1452 1316.3L1452.5 1315.7L1453 1314.7L1453.5 1313.2L1454 1311.2L1454.5 1308.5L1455 1304.1L1455.5 1298.1L1456 1289.9L1456.5 1279.5L1457 1268.1L1457.5 1258.7L1458 1255.9L1458.5 1261.0L1459 1270.5L1459.5 1280.4L1460 1288.5L1460.5 1293.6L1461 1295.2L1461.5 1294.0L1462 1290.7L1462.5 1286.3L1463 1282.4L1463.5 1281.9L1464 1286.1L1464.5 1292.3L1465 1298.6L1465.5 1304.1L1466 1308.5L1466.5 1311.7L1467 1313.5L1467.5 1314.7L1468 1315.7L1468.5 1316.7L1469 1317.5L1469.5 1317.8L1470 1317.8L1470.5 1318.0L1471 1318.5L1471.5 1318.9L1472 1319.0L1472.5 1319.2L1473 1319.6L1473.5 1319.7L1474 1319.6L1475 1319.5L1476 1319.8L1477 1320.1L1478 1320.1L1479 1320.2L1480 1320.3L1481 1320.3L1482 1320.5L1483 1320.6L1484 1320.6L1486 1320.6L1488 1320.8L1490 1320.9L1492 1320.9L1494 1321.1L1496 1320.9L1498 1320.6L1500 1321.1L1502 1321.3L1504 1321.0L1506 1320.8L1508 1320.7L1510 1320.6L1512 1320.8L1514 1321.0L1516 1320.9L1518 1321.2L1520 1321.1L1522 1320.4L1524 1319.8L1526 1319.5L1528 1319.1L1530 1319.5L1532 1319.5L1534 1319.4L1536 1320.2L1538 1320.8L1540 1320.7L1542 1320.8L1544 1321.0L1546 1320.9L1548 1320.9L1550 1321.2L1552 1321.1L1554 1320.9L1556 1321.0L1558 1321.1L1560 1321.1L1562 1321.1L1564 1321.3L1566 1321.1L1568 1320.7L1570 1320.7L1572 1321.0L1574 1321.1L1576 1321.3L1578 1321.3L1580 1321.0L1582 1320.8L1584 1320.9L1586 1321.0L1588 1321.1L1590 1320.6L1592 1320.3L1594 1320.6L1596 1320.5L1598 1320.4L1600 1320.8L1602 1321.2L1604 1321.4L1606 1321.4L1608 1321.3L1610 1321.2L1612 1321.1L1614 1321.2L1616 1321.3L1618 1321.1L1620 1321.1L1622 1321.3L1624 1321.2L1626 1321.1L1628 1321.0L1630 1320.8L1632 1320.9L1634 1321.3L1636 1321.2L1638 1320.8L1639 1320.8L1640 1321.1L1641 1320.9L1642 1321.0L1643 1321.2L1644 1321.1L1645 1321.0L1646 1321.0L1647 1320.9L1648 1320.9L1648.5 1321.0L1649 1321.0L1649.5 1320.9L1650 1321.0L1650.5 1321.2L1651 1321.2L1651.5 1320.9L1652 1320.5L1652.5 1320.3L1653 1320.2L1653.5 1320.3L1654 1320.3L1654.5 1320.2L1655 1319.7L1655.5 1319.3L1656 1318.9L1656.5 1318.3L1657 1317.6L1657.5 1317.0L1658 1316.0L1658.5 1315.0L1659 1314.8L1659.5 1315.3L1660 1315.9L1660.5 1316.5L1661 1316.9L1661.5 1317.1L1662 1317.4L1662.5 1317.6L1663 1317.7L1663.5 1317.7L1664 1317.7L1664.5 1317.6L1665 1317.5L1665.5 1317.5L1666 1317.8L1666.5 1318.5L1667 1318.8L1667.5 1318.9L1668 1319.5L1668.5 1319.9L1669 1320.1L1669.5 1320.4L1670 1320.8L1670.5 1320.7L1671 1320.6L1671.5 1320.6L1672 1320.6L1672.5 1320.6L1673 1320.6L1673.5 1320.7L1674 1320.8L1674.5 1321.1L1675 1321.1L1676 1321.0L1677 1320.9L1678 1321.0L1679 1321.3L1680 1321.2L1681 1321.0L1682 1321.1L1683 1321.1L1684 1321.0L1685 1321.1L1687 1321.1L1689 1320.8L1691 1320.7L1693 1320.9L1695 1321.0L1697 1320.9L1699 1321.3L1701 1321.4L1703 1321.2L1705 1321.1L1707 1321.3L1709 1321.7L1711 1321.8L1713 1321.4L1715 1321.1L1717 1321.1L1719 1320.9L1721 1320.1L1723 1319.5L1725 1320.2L1727 1320.5L1729 1320.3L1731 1320.7L1733 1321.1L1735 1321.2L1737 1321.3L1739 1321.4L1741 1321.3L1743 1321.2L1745 1321.5L1747 1321.5L1749 1321.3L1751 1321.2L1753 1320.9L1755 1320.7L1757 1321.0L1759 1321.4L1761 1321.4L1763 1320.9L1765 1320.6L1767 1320.7L1769 1321.2L1771 1321.2L1773 1320.9L1775 1321.0L1777 1321.1L1779 1321.0L1781 1320.1L1783 1318.8L1785 1317.1L1787 1316.7L1789 1318.1L1791 1318.3L1793 1318.2L1795 1319.6L1797 1320.5L1799 1320.7L1801 1321.0L1803 1321.1L1805 1320.9L1807 1321.0L1809 1321.2L1811 1321.3L1813 1321.4L1815 1321.5L1817 1321.5L1819 1321.3L1821 1321.2L1823 1321.1L1825 1321.0L1827 1321.1L1828 1321.2L1829 1321.3L1830 1321.5L1831 1321.4L1832 1321.0L1833 1320.6L1834 1320.4L1835 1320.6L1836 1320.8L1837 1320.8L1837.5 1320.6L1838 1320.4L1838.5 1320.3L1839 1320.2L1839.5 1320.0L1840 1319.6L1840.5 1319.3L1841 1319.2L1841.5 1319.3L1842 1319.2L1842.5 1318.7L1843 1318.1L1843.5 1317.8L1844 1317.1L1844.5 1315.9L1845 1313.9L1845.5 1311.5L1846 1309.0L1846.5 1305.6L1847 1301.0L1847.5 1295.5L1848 1290.2L1848.5 1287.0L1849 1287.4L1849.5 1291.0L1850 1296.3L1850.5 1301.2L1851 1305.0L1851.5 1307.6L1852 1309.3L1852.5 1309.8L1853 1309.3L1853.5 1308.1L1854 1306.1L1854.5 1303.9L1855 1302.2L1855.5 1301.5L1856 1302.7L1856.5 1305.5L1857 1308.6L1857.5 1311.2L1858 1313.4L1858.5 1315.1L1859 1316.5L1859.5 1317.6L1860 1318.4L1860.5 1318.7L1861 1318.6L1861.5 1318.9L1862 1319.3L1862.5 1319.6L1863 1319.9L1863.5 1320.1L1864 1320.2L1864.5 1320.2L1865 1320.6L1866 1320.9L1867 1321.0L1868 1321.1L1869 1321.1L1870 1320.9L1871 1320.9L1872 1321.1L1873 1321.3L1874 1321.4L1875 1321.5L1877 1321.5L1879 1321.1L1881 1321.0L1883 1321.3L1885 1321.5L1887 1321.6L1889 1321.6L1890 1321.5L1891 1321.3L1892 1321.3L1893 1321.3L1894 1321.5L1895 1321.5L1896 1321.3L1897 1321.4L1898 1321.7L1898.5 1321.3L1899 1321.0L1899.5 1320.8L1900 1320.9L1900.5 1321.2L1901 1321.0L1901.5 1320.8L1902 1320.6L1902.5 1320.5L1903 1320.8L1903.5 1320.8L1904 1320.8L1904.5 1320.9L1905 1320.6L1905.5 1320.3L1906 1320.1L1906.5 1319.7L1907 1318.9L1907.5 1318.0L1908 1317.3L1908.5 1316.9L1909 1316.3L1909.5 1315.9L1910 1316.0L1910.5 1316.4L1911 1316.9L1911.5 1317.4L1912 1318.0L1912.5 1318.3L1913 1318.7L1913.5 1318.9L1914 1319.0L1914.5 1319.2L1915 1319.0L1915.5 1318.4L1916 1318.2L1916.5 1318.0L1917 1318.1L1917.5 1318.3L1918 1318.6L1918.5 1319.1L1919 1319.5L1919.5 1319.8L1920 1320.1L1920.5 1320.6L1921 1321.0L1921.5 1321.5L1922 1321.5L1922.5 1321.1L1923 1320.9L1923.5 1320.7L1924 1320.8L1924.5 1320.9L1925 1320.8L1925.5 1320.8L1926 1321.2L1927 1321.3L1928 1321.2L1929 1321.4L1930 1321.8L1931 1321.7L1932 1321.5L1933 1321.5L1934 1321.2L1935 1321.2L1936 1321.5L1938 1321.9L1940 1321.9L1942 1321.9L1944 1321.9L1946 1321.7L1948 1321.6L1950 1321.8L1952 1321.5L1954 1321.1L1956 1321.1L1958 1321.5L1960 1321.9L1962 1321.7L1964 1321.4L1966 1320.9L1968 1319.8L1970 1318.1L1972 1317.3L1974 1318.9L1976 1319.4L1978 1319.0L1980 1319.6L1982 1320.6L1984 1321.2L1986 1321.5L1988 1321.7L1990 1321.4L1992 1321.3L1994 1321.8L1996 1322.1L1998 1322.0L2000 1322.0L2002 1321.9L2004 1321.4L2006 1321.1L2008 1321.3L2010 1321.6L2012 1321.6L2014 1321.4L2016 1321.5L2018 1321.8L2020 1321.6L2022 1321.3L2024 1321.5L2026 1321.7L2028 1321.4L2030 1320.7L2032 1320.3L2034 1320.9L2036 1321.2L2038 1320.9L2040 1321.0L2042 1321.5L2044 1321.6L2046 1321.5L2048 1321.5L2050 1321.6L2052 1321.6L2054 1321.9L2056 1322.2L2058 1322.2L2060 1321.9L2062 1322.0L2064 1322.0L2066 1321.8L2068 1321.9L2070 1322.4L2072 1322.4L2074 1322.2L2076 1321.9L2078 1321.5L2080 1321.5L2082 1321.8L2084 1322.0L2086 1321.8L2088 1321.4L2090 1321.6L2092 1321.8L2094 1321.7L2096 1321.8L2098 1322.0L2100 1322.0L2102 1322.0L2104 1322.2L2106 1322.1L2108 1321.8L2110 1321.6L2112 1321.6L2114 1321.7L2116 1321.7L2118 1321.5L2120 1321.6L2122 1321.9L2124 1322.2L2126 1322.1L2128 1322.0L2130 1322.1L2132 1322.0L2134 1322.0L2136 1322.1L2138 1321.9L2140 1321.7L2142 1321.3L2144 1320.2L2146 1319.3L2148 1320.1L2150 1320.9L2152 1320.9L2154 1320.7L2156 1321.2L2158 1321.5L2160 1321.6L2162 1321.9L2164 1322.1L2166 1322.1L2168 1321.9L2170 1321.9L2172 1321.9L2174 1321.9L2176 1322.1L2178 1321.9L2180 1322.0L2182 1322.4L2184 1322.2L2186 1322.0L2188 1322.0L2190 1321.9L2192 1321.9L2194 1321.7L2196 1321.7L2198 1321.9L2200 1322.2L2202 1322.2L2204 1322.1L2206 1321.4L2208 1320.7L2210 1321.1L2212 1321.3L2214 1321.2L2216 1321.5L2218 1322.0L2220 1322.0L2222 1322.1L2223 1322.1"/>
<path class="cv" shape-rendering="crispEdges" stroke="#196CDD" d="M201 1076.7L203 1076.6L205 1076.5L207 1076.5L209 1076.5L211 1076.5L213 1076.5L215 1076.6L217 1076.8L219 1077.1L221 1076.9L223 1076.8L225 1076.9L227 1076.7L229 1076.8L231 1076.9L233 1076.8L235 1076.5L237 1076.5L239 1076.8L241 1076.8L242 1076.7L243 1076.8L244 1076.6L245 1076.1L246 1075.8L247 1075.7L248 1075.7L249 1075.7L250 1075.8L251 1076.0L251.5 1076.0L252 1076.0L252.5 1075.8L253 1075.7L253.5 1075.6L254 1075.3L254.5 1075.2L255 1075.1L255.5 1074.9L256 1074.6L256.5 1074.5L257 1074.3L257.5 1073.7L258 1072.6L258.5 1071.5L259 1070.2L259.5 1067.9L260 1064.2L260.5 1060.1L261 1055.2L261.5 1048.9L262 1042.8L262.5 1038.2L263 1036.5L263.5 1042.5L264 1050.7L264.5 1056.7L265 1060.4L265.5 1064.1L266 1068.4L266.5 1071.6L267 1073.5L267.5 1074.7L268 1075.4L268.5 1075.5L269 1075.6L269.5 1075.9L270 1075.9L270.5 1076.0L271 1076.3L271.5 1076.7L272 1076.7L272.5 1076.5L273 1076.9L273.5 1077.1L274 1076.7L274.5 1076.6L275 1076.6L275.5 1076.5L276 1076.3L276.5 1076.3L277 1076.6L277.5 1077.0L278 1077.1L278.5 1076.6L279 1076.4L280 1076.7L281 1076.9L282 1076.9L283 1076.8L284 1076.6L285 1076.8L286 1077.1L287 1077.0L288 1076.9L289 1076.9L291 1076.8L293 1076.8L295 1076.9L297 1076.7L299 1076.7L301 1077.0L303 1077.1L305 1077.0L307 1076.9L309 1076.8L311 1077.2L313 1077.6L315 1077.5L317 1077.3L319 1077.3L321 1077.5L323 1077.6L325 1077.3L327 1077.0L329 1077.0L331 1077.2L333 1077.0L335 1077.0L337 1077.6L339 1077.7L341 1077.4L343 1077.2L345 1077.2L347 1077.2L349 1077.1L351 1076.9L353 1077.0L355 1077.1L357 1077.0L359 1077.0L361 1077.4L363 1077.7L365 1077.6L367 1077.6L369 1077.7L371 1077.3L373 1077.2L375 1077.6L377 1077.7L379 1077.4L381 1077.0L383 1077.4L385 1077.6L387 1077.6L389 1077.7L391 1077.8L393 1077.5L395 1077.1L397 1077.1L399 1077.3L401 1077.3L403 1077.2L405 1077.3L407 1077.6L409 1077.8L411 1077.6L413 1077.5L415 1077.7L417 1077.5L419 1077.2L421 1077.3L423 1077.2L425 1077.3L427 1077.8L429 1077.8L431 1077.5L433 1077.4L435 1077.5L437 1077.4L439 1077.5L441 1077.7L443 1077.8L445 1077.6L447 1077.5L449 1077.6L451 1077.5L453 1077.3L455 1077.3L457 1077.4L459 1077.7L461 1077.9L463 1077.7L465 1077.5L467 1077.6L469 1078.0L471 1078.0L473 1077.7L475 1077.7L477 1077.6L479 1077.3L481 1077.3L483 1077.6L485 1077.7L487 1077.7L489 1077.7L491 1077.8L493 1077.6L495 1077.5L497 1077.8L499 1077.9L501 1077.9L503 1078.0L505 1078.0L507 1077.7L509 1077.7L511 1078.1L513 1078.3L515 1078.1L517 1078.3L519 1078.5L521 1078.2L523 1077.8L525 1077.4L527 1077.4L529 1077.7L531 1078.0L533 1078.0L535 1077.9L537 1077.8L539 1077.8L541 1077.9L543 1078.0L545 1078.2L547 1078.1L549 1077.9L551 1077.7L553 1077.7L555 1077.9L557 1077.9L559 1078.1L561 1078.3L563 1078.3L565 1078.5L567 1078.7L569 1078.6L571 1078.3L573 1078.0L575 1077.9L577 1077.9L579 1077.6L581 1077.4L583 1077.9L585 1078.1L587 1078.0L589 1078.2L591 1078.1L593 1077.8L595 1077.8L597 1078.0L599 1077.8L601 1077.6L603 1077.5L605 1077.3L607 1077.1L609 1077.0L610 1077.1L611 1077.1L612 1077.0L613 1076.9L614 1076.6L615 1076.3L616 1076.2L617 1076.0L618 1075.7L619 1075.3L619.5 1074.8L620 1074.2L620.5 1074.0L621 1074.0L621.5 1073.1L622 1072.2L622.5 1071.9L623 1071.6L623.5 1070.5L624 1069.1L624.5 1067.5L625 1065.7L625.5 1063.1L626 1059.7L626.5 1054.9L627 1047.0L627.5 1034.0L628 1013.3L628.5 982.4L629 940.6L629.5 891.2L630 846.2L630.5 826.6L631 843.4L631.5 880.8L632 917.2L632.5 942.4L633 956.8L633.5 967.4L634 982.2L634.5 1001.7L635 1020.6L635.5 1035.9L636 1047.9L636.5 1056.3L637 1061.4L637.5 1064.9L638 1067.4L638.5 1069.0L639 1070.3L639.5 1071.5L640 1072.4L640.5 1072.9L641 1073.4L641.5 1073.7L642 1074.2L642.5 1074.7L643 1074.9L643.5 1075.3L644 1075.7L644.5 1076.0L645 1076.0L645.5 1075.9L646 1076.0L646.5 1076.3L647.5 1076.8L648.5 1077.5L649.5 1077.8L650.5 1077.6L651.5 1077.4L652.5 1077.4L653.5 1077.5L654.5 1077.7L655.5 1077.7L656.5 1077.6L658.5 1077.9L660.5 1078.1L662.5 1078.2L664.5 1078.4L666.5 1078.5L668.5 1078.6L670.5 1078.5L672.5 1078.4L674.5 1078.4L676.5 1078.5L678.5 1078.6L680.5 1078.6L682.5 1078.8L684.5 1078.9L686.5 1078.8L688.5 1078.6L690.5 1078.8L692.5 1078.8L694.5 1078.5L696.5 1078.4L698.5 1078.8L700.5 1078.9L702.5 1078.7L704.5 1078.7L706.5 1078.9L708.5 1078.8L710.5 1078.6L712.5 1078.5L714.5 1078.7L716.5 1078.9L718.5 1078.7L720.5 1078.4L722.5 1078.6L724.5 1078.8L726.5 1078.6L728.5 1077.6L730.5 1075.9L732.5 1075.9L734.5 1077.1L736.5 1077.9L738.5 1078.4L740.5 1078.6L742.5 1078.5L744.5 1078.4L746.5 1078.4L748.5 1078.5L750.5 1078.7L752.5 1078.9L754.5 1078.8L756.5 1078.9L758.5 1078.9L760.5 1078.9L762.5 1078.9L764.5 1078.8L766.5 1078.8L768.5 1079.2L770.5 1079.1L772.5 1078.9L774.5 1078.8L776.5 1078.7L778.5 1078.9L780.5 1079.0L782.5 1079.0L784.5 1079.2L786.5 1079.3L788.5 1079.1L790.5 1078.9L792.5 1078.9L794.5 1079.1L796.5 1079.2L798.5 1079.1L800.5 1078.8L802.5 1078.5L804.5 1078.7L806.5 1079.2L807.5 1079.3L808.5 1079.1L809.5 1078.9L810.5 1079.0L811.5 1078.8L812.5 1078.5L813.5 1078.1L814.5 1077.9L815.5 1078.0L816.5 1077.9L817 1077.6L817.5 1077.2L818 1076.8L818.5 1077.0L819 1077.3L819.5 1077.2L820 1076.6L820.5 1076.0L821 1075.4L821.5 1075.0L822 1074.7L822.5 1073.9L823 1073.1L823.5 1072.0L824 1069.9L824.5 1067.1L825 1063.0L825.5 1055.9L826 1044.8L826.5 1029.3L827 1009.9L827.5 990.1L828 977.8L828.5 980.8L829 995.6L829.5 1012.8L830 1026.3L830.5 1034.0L831 1036.9L831.5 1037.6L832 1040.2L832.5 1046.4L833 1053.8L833.5 1060.4L834 1065.5L834.5 1069.3L835 1071.7L835.5 1073.1L836 1074.3L836.5 1075.1L837 1075.5L837.5 1076.1L838 1076.5L838.5 1076.5L839 1076.6L839.5 1077.2L840 1077.5L840.5 1077.5L841 1077.9L841.5 1078.1L842 1077.7L842.5 1077.6L843 1078.1L843.5 1078.3L844 1078.5L844.5 1078.7L845.5 1078.8L846.5 1078.6L847.5 1078.6L848.5 1078.7L849.5 1078.8L850.5 1079.0L851.5 1079.0L852.5 1078.9L853.5 1079.0L854.5 1079.2L856.5 1079.3L858.5 1079.0L860.5 1078.9L862.5 1079.0L864.5 1079.2L866.5 1079.3L868.5 1079.4L870.5 1079.2L872.5 1079.4L874.5 1079.5L876.5 1079.5L878.5 1079.7L880.5 1080.1L882.5 1080.3L884.5 1080.0L886.5 1079.5L888.5 1079.2L890.5 1079.1L892.5 1079.2L894.5 1079.6L896.5 1079.6L898.5 1079.4L899.5 1079.5L900.5 1079.6L901.5 1079.7L902.5 1079.5L903.5 1079.3L904.5 1079.4L905.5 1079.6L906.5 1079.5L907.5 1079.3L908 1079.0L908.5 1079.1L909 1079.3L909.5 1079.4L910 1079.1L910.5 1079.3L911 1079.4L911.5 1079.1L912 1078.8L912.5 1078.7L913 1078.8L913.5 1078.9L914 1078.7L914.5 1078.5L915 1078.1L915.5 1077.4L916 1076.4L916.5 1075.2L917 1073.7L917.5 1071.9L918 1069.8L918.5 1067.7L919 1066.7L919.5 1067.1L920 1068.3L920.5 1070.1L921 1071.7L921.5 1072.6L922 1073.0L922.5 1073.5L923 1074.1L923.5 1074.8L924 1075.7L924.5 1076.2L925 1076.7L925.5 1077.5L926 1077.6L926.5 1077.6L927 1078.2L927.5 1078.6L928 1079.0L928.5 1079.3L929 1079.4L929.5 1079.1L930 1079.1L930.5 1079.4L931 1079.5L931.5 1079.3L932 1079.1L932.5 1079.2L933 1079.4L933.5 1079.5L934 1079.4L934.5 1079.2L935 1079.2L935.5 1079.5L936.5 1079.7L937.5 1079.9L938.5 1080.0L939.5 1079.7L940.5 1079.7L941.5 1080.0L942.5 1079.9L943.5 1079.8L944.5 1080.0L945.5 1079.9L947.5 1079.6L949.5 1079.5L951.5 1079.6L953.5 1079.9L955.5 1080.1L957.5 1080.2L959.5 1080.1L961.5 1079.7L963.5 1079.7L965.5 1079.7L967.5 1079.6L969.5 1079.6L971.5 1079.6L973.5 1079.6L975.5 1079.9L977.5 1080.1L979.5 1080.1L981.5 1079.9L983.5 1079.5L985.5 1079.3L987.5 1079.7L989.5 1079.9L991.5 1079.9L993.5 1079.9L995.5 1079.7L997.5 1079.6L999.5 1079.4L1001.5 1079.1L1003.5 1078.4L1005.5 1078.2L1007.5 1079.1L1009.5 1079.3L1011.5 1079.8L1013.5 1080.3L1015.5 1080.2L1017.5 1080.0L1019.5 1080.1L1021.5 1080.2L1023.5 1080.3L1025.5 1080.1L1027.5 1079.8L1029.5 1079.7L1031.5 1079.8L1033.5 1080.1L1035.5 1080.1L1037.5 1080.2L1039.5 1080.7L1041.5 1080.7L1043.5 1080.4L1045.5 1080.3L1047.5 1080.3L1049.5 1080.5L1051.5 1080.5L1053.5 1080.4L1055.5 1080.6L1057.5 1080.8L1059.5 1080.6L1061.5 1080.3L1063.5 1080.4L1065.5 1080.6L1067.5 1080.6L1068.5 1080.5L1069.5 1080.1L1070.5 1080.0L1071.5 1080.3L1072.5 1080.3L1073.5 1080.0L1074.5 1080.1L1075.5 1080.2L1076.5 1080.1L1077 1080.1L1077.5 1080.3L1078 1080.6L1078.5 1080.7L1079 1080.5L1079.5 1080.3L1080 1080.2L1080.5 1079.9L1081 1079.7L1081.5 1079.6L1082 1079.3L1082.5 1079.4L1083 1079.2L1083.5 1078.9L1084 1078.3L1084.5 1077.3L1085 1076.5L1085.5 1075.7L1086 1074.6L1086.5 1073.4L1087 1072.1L1087.5 1071.4L1088 1071.6L1088.5 1072.4L1089 1073.4L1089.5 1074.5L1090 1075.3L1090.5 1075.5L1091 1075.8L1091.5 1076.3L1092 1076.5L1092.5 1076.9L1093 1077.6L1093.5 1078.1L1094 1078.5L1094.5 1078.7L1095 1078.9L1095.5 1079.5L1096 1079.9L1096.5 1079.9L1097 1079.9L1097.5 1080.1L1098 1080.2L1098.5 1080.1L1099 1080.0L1099.5 1080.0L1100 1080.1L1100.5 1080.1L1101 1080.2L1101.5 1080.4L1102 1080.0L1102.5 1080.1L1103 1080.5L1103.5 1080.6L1104 1080.5L1105 1080.3L1106 1080.3L1107 1080.5L1108 1080.4L1109 1080.4L1110 1080.6L1111 1080.7L1112 1080.5L1113 1080.6L1114 1080.9L1116 1081.0L1118 1080.9L1120 1080.8L1122 1080.8L1124 1081.0L1126 1081.1L1128 1081.1L1130 1081.2L1132 1081.0L1134 1080.9L1136 1081.1L1138 1081.0L1140 1080.5L1142 1080.4L1144 1080.8L1146 1080.8L1148 1081.0L1150 1081.2L1152 1081.0L1154 1080.9L1156 1081.0L1158 1080.8L1160 1080.7L1162 1080.6L1164 1080.2L1166 1079.4L1168 1079.5L1170 1079.7L1172 1079.9L1174 1080.3L1176 1080.7L1178 1080.7L1180 1080.5L1182 1080.5L1184 1080.6L1186 1080.7L1188 1081.0L1190 1081.2L1192 1080.9L1194 1080.8L1196 1080.9L1198 1081.0L1200 1081.0L1202 1081.0L1204 1080.7L1206 1080.7L1208 1081.2L1210 1081.3L1212 1081.1L1214 1081.0L1216 1081.2L1218 1081.3L1220 1081.1L1222 1080.9L1223 1080.9L1224 1080.8L1225 1081.0L1226 1081.0L1227 1081.0L1228 1081.0L1229 1080.6L1230 1080.6L1231 1080.5L1231.5 1080.4L1232 1080.7L1232.5 1080.9L1233 1080.7L1233.5 1080.5L1234 1080.5L1234.5 1080.3L1235 1080.2L1235.5 1080.3L1236 1080.0L1236.5 1079.7L1237 1079.5L1237.5 1079.0L1238 1078.4L1238.5 1078.1L1239 1077.3L1239.5 1075.8L1240 1074.0L1240.5 1071.8L1241 1069.0L1241.5 1066.1L1242 1063.3L1242.5 1062.0L1243 1063.0L1243.5 1065.2L1244 1067.6L1244.5 1069.4L1245 1069.9L1245.5 1070.1L1246 1070.4L1246.5 1070.0L1247 1069.3L1247.5 1069.5L1248 1070.9L1248.5 1072.7L1249 1074.6L1249.5 1076.1L1250 1077.0L1250.5 1077.6L1251 1078.4L1251.5 1078.9L1252 1079.1L1252.5 1079.8L1253 1080.4L1253.5 1080.1L1254 1079.9L1254.5 1080.3L1255 1080.4L1255.5 1080.6L1256 1081.0L1256.5 1081.1L1257 1081.0L1257.5 1081.0L1258 1080.7L1258.5 1080.5L1259.5 1080.6L1260.5 1080.8L1261.5 1080.9L1262.5 1081.0L1263.5 1081.2L1264.5 1081.2L1265.5 1081.0L1266.5 1081.0L1267.5 1081.2L1268.5 1081.3L1270.5 1080.9L1272.5 1080.8L1274.5 1081.0L1276.5 1080.9L1278.5 1080.9L1280.5 1081.1L1282.5 1081.1L1284.5 1081.0L1286.5 1081.2L1288.5 1081.4L1290.5 1081.4L1292.5 1081.5L1294.5 1081.8L1296.5 1081.5L1298.5 1081.1L1300.5 1080.8L1302.5 1080.9L1304.5 1081.2L1306.5 1081.2L1308.5 1081.2L1310.5 1081.5L1312.5 1081.5L1314.5 1081.3L1316.5 1081.2L1318.5 1081.3L1320.5 1081.2L1322.5 1080.9L1324.5 1081.0L1326.5 1081.4L1328.5 1081.3L1330.5 1080.9L1332.5 1081.1L1334.5 1081.4L1336.5 1081.4L1338.5 1081.4L1340.5 1081.3L1342.5 1081.6L1344.5 1081.7L1346.5 1081.6L1348.5 1081.5L1350.5 1081.6L1352.5 1081.7L1354.5 1081.4L1356.5 1081.2L1358.5 1081.2L1360.5 1081.3L1362.5 1081.3L1364.5 1081.2L1366.5 1081.3L1368.5 1081.4L1370.5 1081.2L1372.5 1081.2L1374.5 1081.4L1376.5 1081.2L1378.5 1081.1L1380.5 1081.2L1382.5 1081.1L1384.5 1080.8L1386.5 1080.0L1388.5 1077.6L1390.5 1078.1L1392.5 1079.3L1394.5 1078.6L1396.5 1079.6L1398.5 1080.3L1400.5 1080.7L1402.5 1080.8L1404.5 1080.8L1406.5 1080.8L1408.5 1081.1L1410.5 1081.5L1412.5 1081.5L1414.5 1081.2L1416.5 1081.2L1418.5 1081.5L1420.5 1081.2L1422.5 1081.1L1424.5 1081.0L1426.5 1080.8L1428.5 1080.8L1430.5 1081.1L1432.5 1081.3L1434.5 1081.1L1436.5 1081.1L1438.5 1081.1L1439.5 1080.9L1440.5 1080.7L1441.5 1080.8L1442.5 1080.6L1443.5 1080.2L1444.5 1080.2L1445.5 1080.4L1446.5 1080.2L1447.5 1079.9L1448 1080.0L1448.5 1079.9L1449 1079.4L1449.5 1079.0L1450 1078.9L1450.5 1078.7L1451 1078.5L1451.5 1078.4L1452 1077.7L1452.5 1076.7L1453 1076.1L1453.5 1075.5L1454 1074.5L1454.5 1072.8L1455 1070.6L1455.5 1067.5L1456 1062.6L1456.5 1055.1L1457 1044.9L1457.5 1031.8L1458 1017.2L1458.5 1005.3L1459 1002.6L1459.5 1010.5L1460 1023.5L1460.5 1035.9L1461 1045.3L1461.5 1050.9L1462 1052.6L1462.5 1051.1L1463 1046.9L1463.5 1040.8L1464 1035.6L1464.5 1035.1L1465 1040.4L1465.5 1048.5L1466 1056.5L1466.5 1063.0L1467 1067.6L1467.5 1071.0L1468 1073.6L1468.5 1075.3L1469 1076.0L1469.5 1076.7L1470 1077.7L1470.5 1078.0L1471 1078.1L1471.5 1078.4L1472 1078.6L1472.5 1079.1L1473 1079.3L1473.5 1079.4L1474 1079.7L1474.5 1080.0L1475 1080.2L1476 1080.3L1477 1080.4L1478 1080.5L1479 1080.7L1480 1081.0L1481 1081.2L1482 1081.0L1483 1081.0L1484 1081.4L1485 1081.5L1487 1081.3L1489 1081.3L1491 1081.3L1493 1081.0L1495 1081.1L1497 1081.4L1499 1081.5L1501 1081.4L1503 1081.3L1505 1081.5L1507 1081.7L1509 1081.5L1511 1081.2L1513 1081.1L1515 1081.3L1517 1081.3L1519 1081.1L1521 1081.2L1523 1081.3L1525 1081.0L1527 1080.0L1529 1079.0L1531 1079.6L1533 1079.8L1535 1079.8L1537 1080.8L1539 1081.2L1541 1081.1L1543 1081.2L1545 1081.4L1547 1081.6L1549 1081.8L1551 1081.5L1553 1081.1L1555 1081.3L1557 1081.5L1559 1081.5L1561 1081.5L1563 1081.4L1565 1081.5L1567 1081.8L1569 1082.0L1571 1082.0L1573 1081.9L1575 1081.8L1577 1081.6L1579 1081.5L1581 1081.6L1583 1081.6L1585 1081.3L1587 1081.1L1589 1081.4L1591 1081.4L1593 1080.9L1595 1081.2L1597 1081.4L1599 1081.2L1601 1081.2L1603 1081.5L1605 1081.6L1607 1081.4L1609 1081.2L1611 1081.4L1613 1081.9L1615 1082.0L1617 1081.9L1619 1081.9L1621 1081.7L1623 1081.7L1625 1082.0L1627 1081.8L1629 1081.7L1631 1081.8L1633 1081.9L1635 1081.6L1637 1081.2L1639 1081.1L1640 1081.4L1641 1081.8L1642 1081.9L1643 1081.6L1644 1081.5L1645 1081.7L1646 1081.6L1647 1081.3L1648 1081.2L1649 1081.5L1649.5 1081.7L1650 1081.8L1650.5 1081.6L1651 1081.4L1651.5 1081.3L1652 1081.0L1652.5 1081.1L1653 1081.2L1653.5 1080.8L1654 1080.7L1654.5 1080.9L1655 1080.7L1655.5 1080.4L1656 1080.4L1656.5 1079.8L1657 1078.9L1657.5 1078.2L1658 1077.4L1658.5 1076.5L1659 1075.2L1659.5 1073.6L1660 1073.2L1660.5 1073.7L1661 1074.3L1661.5 1075.1L1662 1076.1L1662.5 1077.0L1663 1077.5L1663.5 1077.8L1664 1077.8L1664.5 1077.4L1665 1076.8L1665.5 1076.3L1666 1076.2L1666.5 1076.5L1667 1077.2L1667.5 1077.9L1668 1078.5L1668.5 1078.9L1669 1079.4L1669.5 1079.8L1670 1080.0L1670.5 1080.5L1671 1081.1L1671.5 1081.3L1672 1081.3L1672.5 1081.2L1673 1081.2L1673.5 1081.5L1674 1081.5L1674.5 1081.3L1675 1081.2L1675.5 1081.4L1676 1081.7L1676.5 1081.8L1677.5 1081.6L1678.5 1081.5L1679.5 1081.5L1680.5 1081.5L1681.5 1081.5L1682.5 1081.3L1683.5 1081.4L1684.5 1081.8L1685.5 1081.9L1686.5 1081.6L1688.5 1081.6L1690.5 1081.7L1692.5 1081.6L1694.5 1081.5L1696.5 1081.5L1698.5 1081.5L1700.5 1081.5L1702.5 1081.6L1704.5 1081.4L1706.5 1081.5L1708.5 1081.5L1710.5 1081.4L1712.5 1081.4L1714.5 1081.2L1716.5 1081.2L1718.5 1081.2L1720.5 1081.0L1722.5 1080.5L1724.5 1080.5L1726.5 1080.9L1728.5 1080.9L1730.5 1080.9L1732.5 1081.2L1734.5 1081.5L1736.5 1081.7L1738.5 1081.8L1740.5 1081.8L1742.5 1081.8L1744.5 1081.7L1746.5 1081.7L1748.5 1081.6L1750.5 1081.8L1752.5 1081.9L1754.5 1081.8L1756.5 1081.8L1758.5 1081.9L1760.5 1081.7L1762.5 1081.7L1764.5 1081.8L1766.5 1081.9L1767.5 1082.1L1768.5 1082.0L1769.5 1081.9L1770.5 1081.9L1771.5 1082.0L1772.5 1082.1L1773.5 1081.9L1774.5 1081.5L1775.5 1081.4L1776.5 1081.3L1777 1081.4L1777.5 1081.4L1778 1081.2L1778.5 1081.0L1779 1081.1L1779.5 1081.3L1780 1081.4L1780.5 1081.7L1781 1081.5L1781.5 1081.0L1782 1080.8L1782.5 1080.6L1783 1080.2L1783.5 1079.9L1784 1079.7L1784.5 1079.3L1785 1078.6L1785.5 1077.9L1786 1076.9L1786.5 1075.9L1787 1075.6L1787.5 1075.6L1788 1075.7L1788.5 1076.4L1789 1077.3L1789.5 1077.7L1790 1077.8L1790.5 1078.1L1791 1078.4L1791.5 1078.7L1792 1078.7L1792.5 1078.4L1793 1078.0L1793.5 1078.0L1794 1078.4L1794.5 1078.6L1795 1078.9L1795.5 1079.4L1796 1079.4L1796.5 1079.6L1797 1080.2L1797.5 1080.4L1798 1080.3L1798.5 1080.5L1799 1080.9L1799.5 1081.1L1800 1081.1L1800.5 1081.1L1801 1081.3L1801.5 1081.4L1802 1081.6L1802.5 1081.7L1803 1081.4L1803.5 1081.3L1804 1081.5L1805 1081.6L1806 1081.5L1807 1081.4L1808 1081.6L1809 1081.7L1810 1081.8L1811 1081.6L1812 1081.3L1813 1081.3L1814 1081.5L1816 1081.8L1818 1081.7L1820 1081.5L1822 1081.5L1824 1081.7L1826 1082.1L1828 1081.9L1829 1081.5L1830 1081.5L1831 1081.8L1832 1081.8L1833 1081.5L1834 1081.4L1835 1081.4L1836 1081.3L1837 1081.1L1838 1081.0L1838.5 1081.1L1839 1081.1L1839.5 1080.7L1840 1080.6L1840.5 1080.8L1841 1080.7L1841.5 1080.5L1842 1080.1L1842.5 1080.0L1843 1079.7L1843.5 1079.2L1844 1078.9L1844.5 1078.4L1845 1078.0L1845.5 1077.2L1846 1075.6L1846.5 1073.8L1847 1071.4L1847.5 1068.1L1848 1063.8L1848.5 1058.0L1849 1051.1L1849.5 1045.4L1850 1043.3L1850.5 1045.7L1851 1051.2L1851.5 1057.3L1852 1062.2L1852.5 1065.8L1853 1068.3L1853.5 1069.8L1854 1069.9L1854.5 1068.8L1855 1066.8L1855.5 1064.2L1856 1061.3L1856.5 1059.6L1857 1060.0L1857.5 1062.4L1858 1066.0L1858.5 1069.5L1859 1072.4L1859.5 1074.6L1860 1076.1L1860.5 1077.5L1861 1078.9L1861.5 1079.6L1862 1079.6L1862.5 1079.6L1863 1079.7L1863.5 1080.0L1864 1080.3L1864.5 1080.6L1865 1080.7L1865.5 1080.7L1866 1081.0L1867 1081.3L1868 1081.4L1869 1081.5L1870 1081.4L1871 1081.3L1872 1081.4L1873 1081.4L1874 1081.4L1875 1081.5L1876 1081.4L1878 1081.3L1880 1081.7L1882 1081.8L1884 1081.7L1886 1081.7L1888 1081.7L1890 1081.7L1891 1081.8L1892 1081.6L1893 1081.5L1894 1081.7L1895 1082.0L1896 1081.9L1897 1081.9L1898 1081.9L1899 1081.9L1900 1082.0L1900.5 1081.9L1901 1081.6L1901.5 1081.4L1902 1081.3L1902.5 1081.4L1903 1081.8L1903.5 1082.0L1904 1081.7L1904.5 1081.4L1905 1081.0L1905.5 1080.6L1906 1080.5L1906.5 1080.7L1907 1080.8L1907.5 1080.4L1908 1079.8L1908.5 1079.1L1909 1078.0L1909.5 1077.0L1910 1075.9L1910.5 1074.9L1911 1074.5L1911.5 1074.7L1912 1075.3L1912.5 1076.0L1913 1076.7L1913.5 1077.4L1914 1078.1L1914.5 1078.7L1915 1079.1L1915.5 1079.0L1916 1078.7L1916.5 1078.5L1917 1078.1L1917.5 1077.7L1918 1077.5L1918.5 1077.4L1919 1077.9L1919.5 1078.7L1920 1079.3L1920.5 1079.6L1921 1079.8L1921.5 1080.4L1922 1080.8L1922.5 1080.9L1923 1081.1L1923.5 1081.3L1924 1081.4L1924.5 1081.5L1925 1081.6L1925.5 1081.7L1926 1081.8L1926.5 1082.0L1927 1081.8L1927.5 1081.5L1928.5 1081.6L1929.5 1082.0L1930.5 1082.2L1931.5 1082.0L1932.5 1081.8L1933.5 1082.0L1934.5 1082.2L1935.5 1082.2L1936.5 1082.1L1937.5 1082.0L1939.5 1081.7L1941.5 1081.7L1943.5 1081.8L1945.5 1081.9L1947.5 1081.8L1949.5 1081.7L1951.5 1081.8L1953.5 1082.1L1955.5 1082.4L1957.5 1082.3L1959.5 1082.4L1961.5 1082.3L1963.5 1081.7L1965.5 1081.4L1967.5 1081.3L1969.5 1080.3L1971.5 1078.2L1973.5 1077.7L1975.5 1079.4L1977.5 1079.9L1979.5 1079.5L1981.5 1080.2L1983.5 1081.2L1985.5 1081.7L1987.5 1081.8L1989.5 1081.6L1991.5 1081.7L1993.5 1082.2L1995.5 1082.7L1997.5 1082.5L1999.5 1082.2L2001.5 1082.2L2003.5 1082.2L2005.5 1082.2L2007.5 1082.2L2009.5 1082.3L2011.5 1082.3L2013.5 1082.2L2015.5 1082.0L2017.5 1081.9L2019.5 1081.8L2021.5 1081.9L2023.5 1082.0L2025.5 1082.0L2027.5 1082.0L2029.5 1081.8L2031.5 1081.1L2033.5 1080.9L2035.5 1081.7L2037.5 1081.9L2039.5 1081.4L2041.5 1081.5L2043.5 1081.9L2045.5 1082.0L2047.5 1082.2L2049.5 1082.3L2051.5 1082.4L2053.5 1082.3L2055.5 1082.2L2057.5 1082.0L2059.5 1082.0L2061.5 1082.3L2063.5 1082.5L2065.5 1082.6L2067.5 1082.4L2069.5 1082.2L2071.5 1082.3L2073.5 1082.2L2075.5 1082.1L2077.5 1082.2L2079.5 1082.3L2081.5 1082.4L2083.5 1082.6L2085.5 1082.7L2087.5 1082.4L2089.5 1082.1L2091.5 1082.3L2093.5 1082.5L2095.5 1082.3L2097.5 1082.2L2099.5 1082.3L2101.5 1082.3L2103.5 1082.3L2105.5 1082.1L2107.5 1082.2L2109.5 1082.3L2111.5 1082.2L2113.5 1082.3L2115.5 1082.4L2117.5 1082.5L2119.5 1082.4L2121.5 1082.1L2123.5 1082.3L2125.5 1082.7L2127.5 1082.7L2129.5 1082.6L2131.5 1082.8L2133.5 1082.4L2135.5 1082.2L2137.5 1082.4L2139.5 1082.5L2141.5 1082.3L2143.5 1082.0L2145.5 1081.2L2147.5 1080.7L2149.5 1081.5L2151.5 1081.9L2153.5 1081.4L2155.5 1081.2L2157.5 1081.8L2159.5 1082.2L2161.5 1082.4L2163.5 1082.5L2165.5 1082.3L2167.5 1082.4L2169.5 1082.8L2171.5 1083.2L2173.5 1083.0L2175.5 1082.7L2177.5 1082.4L2179.5 1082.4L2181.5 1082.7L2183.5 1082.9L2185.5 1082.7L2187.5 1082.6L2189.5 1082.4L2191.5 1082.2L2193.5 1082.2L2195.5 1082.2L2197.5 1082.4L2199.5 1082.6L2201.5 1082.9L2203.5 1082.8L2205.5 1082.4L2207.5 1081.9L2209.5 1081.7L2211.5 1082.4L2213.5 1082.8L2215.5 1082.3L2217.5 1081.8L2219.5 1082.0L2221.5 1082.3L2223 1082.5"/>
<path class="cv" shape-rendering="crispEdges" stroke="#36AB6B" d="M201 795.8L203 795.9L205 796.0L207 796.1L209 796.2L211 796.2L213 796.3L215 796.3L217 796.2L219 795.8L221 795.5L223 795.6L225 795.9L227 796.0L229 796.1L231 796.0L233 796.1L235 796.3L237 796.1L239 795.7L241 795.7L242 795.9L243 795.9L244 795.5L245 795.5L246 795.4L247 795.1L248 795.3L249 795.3L250 795.0L251 795.1L251.5 795.2L252 794.8L252.5 794.5L253 794.5L253.5 794.5L254 794.1L254.5 793.5L255 793.3L255.5 793.1L256 792.8L256.5 792.3L257 791.3L257.5 790.2L258 788.8L258.5 786.3L259 782.9L259.5 778.9L260 774.0L260.5 768.1L261 761.4L261.5 754.8L262 749.5L262.5 747.2L263 752.2L263.5 759.5L264 765.3L264.5 769.7L265 774.8L265.5 780.9L266 786.1L266.5 789.6L267 791.6L267.5 793.0L268 794.1L268.5 794.6L269 794.7L269.5 794.9L270 795.4L270.5 795.6L271 795.3L271.5 795.2L272 795.5L272.5 795.6L273 795.6L273.5 795.7L274 795.8L274.5 795.9L275 795.8L275.5 795.9L276 795.9L276.5 795.7L277 795.8L277.5 796.1L278 796.3L278.5 796.0L279.5 795.7L280.5 796.1L281.5 796.2L282.5 795.9L283.5 795.8L284.5 796.3L285.5 796.6L286.5 796.6L287.5 796.5L288.5 796.2L290.5 796.2L292.5 796.1L294.5 796.0L296.5 796.0L298.5 796.0L300.5 796.0L302.5 796.1L304.5 796.2L306.5 796.3L308.5 796.3L310.5 796.2L312.5 796.2L314.5 796.1L316.5 796.3L318.5 796.2L320.5 796.0L322.5 796.3L324.5 796.7L326.5 796.6L328.5 796.4L330.5 796.4L332.5 796.5L334.5 796.6L336.5 796.7L338.5 796.7L340.5 796.8L342.5 796.6L344.5 796.4L346.5 796.3L348.5 796.4L350.5 796.5L352.5 796.6L354.5 796.5L356.5 796.4L358.5 796.3L360.5 796.5L362.5 796.6L364.5 796.7L366.5 796.5L368.5 796.3L370.5 796.3L372.5 796.6L374.5 796.8L376.5 796.7L378.5 796.8L380.5 796.9L382.5 796.6L384.5 796.4L386.5 796.3L388.5 796.5L390.5 796.8L392.5 796.7L394.5 796.8L396.5 797.0L398.5 796.9L400.5 796.8L402.5 796.8L404.5 796.7L406.5 796.9L408.5 797.2L410.5 796.9L412.5 796.7L414.5 796.9L416.5 797.0L418.5 797.0L420.5 796.7L422.5 796.6L424.5 796.7L426.5 797.1L428.5 797.2L430.5 796.9L432.5 796.8L434.5 796.8L436.5 796.8L438.5 796.9L440.5 797.0L442.5 796.9L444.5 797.1L446.5 797.2L448.5 797.1L450.5 797.2L452.5 797.1L454.5 797.1L456.5 797.2L458.5 797.2L460.5 797.0L462.5 796.9L464.5 796.8L466.5 796.9L468.5 797.1L470.5 797.2L472.5 797.2L474.5 797.2L476.5 797.2L478.5 797.2L480.5 797.3L482.5 797.5L484.5 797.2L486.5 796.9L488.5 797.0L490.5 797.2L492.5 797.4L494.5 797.4L496.5 797.5L498.5 797.4L500.5 797.2L502.5 797.2L504.5 797.2L506.5 797.4L508.5 797.9L510.5 797.6L512.5 797.0L514.5 797.0L516.5 797.2L518.5 797.1L520.5 796.9L522.5 796.9L524.5 797.2L526.5 797.3L528.5 797.4L530.5 797.5L532.5 797.4L534.5 797.2L536.5 797.3L538.5 797.2L540.5 797.3L542.5 797.4L544.5 797.2L546.5 797.2L548.5 797.5L550.5 797.5L552.5 797.3L554.5 797.4L556.5 797.6L558.5 797.5L560.5 797.5L562.5 797.3L564.5 797.2L566.5 797.1L568.5 797.2L570.5 797.6L572.5 797.6L574.5 797.4L576.5 797.6L578.5 797.4L580.5 797.1L582.5 797.3L584.5 797.5L586.5 797.4L588.5 797.3L590.5 797.4L592.5 797.4L594.5 797.2L596.5 797.1L598.5 797.4L600.5 797.4L602.5 797.0L604.5 796.9L606.5 796.9L608.5 796.8L609.5 796.8L610.5 797.0L611.5 796.9L612.5 796.6L613.5 796.5L614.5 796.5L615.5 796.0L616.5 795.3L617.5 795.2L618.5 794.7L619 794.3L619.5 794.0L620 793.7L620.5 793.5L621 793.0L621.5 792.3L622 791.8L622.5 791.0L623 789.8L623.5 789.0L624 787.8L624.5 786.0L625 783.4L625.5 779.3L626 773.3L626.5 764.3L627 750.5L627.5 730.3L628 703.4L628.5 671.8L629 639.8L629.5 615.3L630 608.4L630.5 618.9L631 636.8L631.5 652.9L632 663.4L632.5 670.7L633 680.8L633.5 696.9L634 716.4L634.5 735.6L635 752.2L635.5 764.8L636 773.6L636.5 779.8L637 783.9L637.5 786.3L638 788.1L638.5 789.6L639 790.6L639.5 791.4L640 792.2L640.5 793.0L641 793.5L641.5 793.8L642 794.5L642.5 795.1L643 795.0L643.5 794.8L644 795.1L644.5 795.4L645 795.4L645.5 795.7L646 796.2L647 796.6L648 796.7L649 796.8L650 797.0L651 797.1L652 797.0L653 797.0L654 796.9L655 797.0L656 797.1L658 797.3L660 797.4L662 797.5L664 797.6L666 797.5L668 797.8L670 798.1L672 798.1L674 798.0L676 798.1L678 798.1L680 798.0L682 797.8L684 797.7L686 798.0L688 798.2L690 798.1L692 798.0L694 798.1L696 797.9L698 797.7L700 797.8L702 798.0L704 798.2L706 798.5L708 798.6L710 798.4L712 798.1L714 797.8L716 797.7L718 798.1L720 798.5L722 798.3L724 797.8L726 797.6L728 796.9L730 795.5L732 795.2L734 795.9L736 797.0L738 797.7L740 798.0L742 798.1L744 798.1L746 797.9L748 797.7L750 798.2L752 798.5L754 798.2L756 798.3L758 798.4L760 798.2L762 798.2L764 798.4L766 798.4L768 798.2L770 798.4L772 798.4L774 798.2L776 798.5L778 798.7L780 798.5L782 798.5L784 798.6L786 798.4L788 798.4L790 798.8L792 798.7L794 798.3L796 798.2L798 798.4L800 798.5L802 798.3L804 798.0L806 797.8L807 797.5L808 797.7L809 797.9L810 797.9L811 797.5L812 797.1L813 797.1L814 796.8L815 796.5L816 796.2L816.5 795.9L817 796.0L817.5 795.9L818 795.3L818.5 794.9L819 794.5L819.5 794.0L820 793.1L820.5 792.2L821 791.4L821.5 790.4L822 788.8L822.5 786.4L823 783.1L823.5 778.4L824 772.0L824.5 764.0L825 754.4L825.5 742.8L826 730.1L826.5 717.8L827 708.6L827.5 705.0L828 706.6L828.5 712.0L829 718.6L829.5 724.2L830 728.3L830.5 732.2L831 736.9L831.5 743.2L832 750.9L832.5 758.7L833 766.2L833.5 773.1L834 778.8L834.5 782.8L835 785.8L835.5 788.4L836 790.3L836.5 791.7L837 792.4L837.5 793.1L838 794.0L838.5 794.8L839 795.3L839.5 795.7L840 796.0L840.5 796.1L841 796.1L841.5 796.4L842 796.7L842.5 796.9L843 796.9L843.5 796.8L844.5 797.1L845.5 797.4L846.5 797.6L847.5 797.9L848.5 798.1L849.5 798.1L850.5 798.0L851.5 798.2L852.5 798.6L853.5 798.5L855.5 798.3L857.5 798.4L859.5 798.4L861.5 798.6L863.5 798.7L865.5 798.6L867.5 798.6L869.5 798.8L871.5 798.9L873.5 798.9L875.5 798.7L877.5 798.6L879.5 798.6L881.5 798.6L883.5 798.7L885.5 798.6L887.5 798.5L889.5 798.5L891.5 798.6L893.5 798.7L895.5 798.8L897.5 798.8L898.5 798.8L899.5 798.9L900.5 798.7L901.5 798.5L902.5 798.6L903.5 798.5L904.5 798.4L905.5 798.3L906.5 798.3L907 798.3L907.5 798.0L908 798.1L908.5 798.4L909 798.4L909.5 798.0L910 797.6L910.5 797.4L911 797.3L911.5 797.1L912 796.9L912.5 796.7L913 796.4L913.5 795.6L914 794.6L914.5 793.8L915 792.9L915.5 791.6L916 789.9L916.5 788.2L917 786.7L917.5 785.3L918 784.5L918.5 784.1L919 784.3L919.5 784.8L920 785.3L920.5 785.9L921 786.5L921.5 787.3L922 788.2L922.5 789.1L923 790.1L923.5 791.3L924 792.5L924.5 793.3L925 793.9L925.5 794.7L926 795.6L926.5 796.2L927 796.7L927.5 797.3L928 797.6L928.5 797.7L929 797.8L929.5 797.7L930 797.6L930.5 797.9L931 798.2L931.5 798.3L932 798.3L932.5 798.1L933 798.3L933.5 798.8L934 799.0L934.5 798.8L935.5 798.8L936.5 798.9L937.5 799.2L938.5 799.6L939.5 799.4L940.5 799.0L941.5 799.0L942.5 799.3L943.5 799.3L944.5 799.4L946.5 799.2L948.5 798.9L950.5 798.7L952.5 798.7L954.5 798.9L956.5 799.2L958.5 799.3L960.5 799.4L962.5 799.1L964.5 799.1L966.5 799.6L968.5 799.6L970.5 799.3L972.5 799.3L974.5 799.2L976.5 799.0L978.5 799.3L980.5 799.3L982.5 799.3L984.5 799.4L986.5 799.3L988.5 799.3L990.5 799.4L992.5 799.3L994.5 799.1L996.5 798.8L998.5 798.7L1000.5 798.3L1002.5 797.5L1004.5 797.1L1006.5 797.2L1008.5 797.5L1010.5 798.0L1012.5 798.7L1014.5 799.1L1016.5 799.3L1018.5 799.4L1020.5 799.3L1022.5 799.1L1024.5 799.2L1026.5 799.4L1028.5 799.7L1030.5 800.0L1032.5 799.9L1034.5 799.7L1036.5 799.6L1038.5 799.8L1040.5 799.9L1042.5 799.5L1044.5 799.2L1046.5 799.0L1048.5 799.3L1050.5 799.5L1052.5 799.4L1054.5 799.4L1056.5 799.6L1058.5 799.6L1060.5 799.5L1062.5 799.6L1064.5 799.5L1066.5 799.2L1067.5 799.2L1068.5 799.2L1069.5 798.9L1070.5 799.0L1071.5 799.3L1072.5 799.5L1073.5 799.4L1074.5 799.3L1075.5 799.2L1076 799.3L1076.5 799.2L1077 799.4L1077.5 799.6L1078 799.4L1078.5 799.0L1079 798.6L1079.5 798.5L1080 798.4L1080.5 798.1L1081 797.7L1081.5 797.3L1082 796.8L1082.5 796.3L1083 796.0L1083.5 795.7L1084 795.2L1084.5 794.9L1085 794.6L1085.5 794.0L1086 793.2L1086.5 792.7L1087 792.5L1087.5 792.8L1088 793.2L1088.5 793.3L1089 793.0L1089.5 793.2L1090 793.5L1090.5 793.7L1091 794.0L1091.5 794.3L1092 794.9L1092.5 795.5L1093 795.8L1093.5 796.2L1094 796.8L1094.5 797.3L1095 797.7L1095.5 798.2L1096 798.1L1096.5 798.2L1097 798.9L1097.5 799.2L1098 798.8L1098.5 798.7L1099 798.8L1099.5 799.1L1100 799.2L1100.5 799.0L1101 798.9L1101.5 799.0L1102 799.2L1102.5 799.3L1103 799.3L1104 799.4L1105 799.2L1106 799.1L1107 799.1L1108 799.4L1109 799.4L1110 799.3L1111 799.4L1112 799.7L1113 799.7L1115 799.5L1117 799.5L1119 799.6L1121 799.6L1123 799.5L1125 799.5L1127 799.5L1129 799.5L1131 799.8L1133 800.0L1135 799.8L1137 799.5L1139 799.6L1141 799.9L1143 799.9L1145 799.8L1147 799.8L1149 799.9L1151 799.6L1153 799.4L1155 799.7L1157 800.0L1159 799.7L1161 799.3L1163 798.8L1165 797.9L1167 797.6L1169 798.1L1171 798.9L1173 799.6L1175 799.8L1177 799.8L1179 800.0L1181 800.0L1183 799.8L1185 799.7L1187 799.6L1189 799.6L1191 799.4L1193 799.3L1195 799.6L1197 800.0L1199 799.8L1201 799.6L1203 799.9L1205 800.3L1207 800.2L1209 800.3L1211 799.9L1213 799.4L1215 799.8L1217 800.1L1219 799.8L1221 799.4L1222 799.6L1223 799.6L1224 799.2L1225 799.2L1226 799.4L1227 799.3L1228 798.9L1229 798.7L1230 798.7L1230.5 798.7L1231 798.4L1231.5 798.3L1232 798.2L1232.5 798.1L1233 798.0L1233.5 797.7L1234 797.4L1234.5 797.0L1235 796.3L1235.5 795.7L1236 795.0L1236.5 794.0L1237 792.9L1237.5 791.9L1238 790.5L1238.5 789.0L1239 787.5L1239.5 785.9L1240 784.5L1240.5 783.1L1241 781.9L1241.5 781.3L1242 781.3L1242.5 781.7L1243 782.3L1243.5 783.2L1244 784.2L1244.5 785.0L1245 785.7L1245.5 786.5L1246 786.9L1246.5 787.6L1247 788.7L1247.5 789.5L1248 790.6L1248.5 791.8L1249 792.7L1249.5 793.7L1250 794.9L1250.5 795.6L1251 796.0L1251.5 796.6L1252 797.1L1252.5 797.4L1253 797.5L1253.5 797.5L1254 797.8L1254.5 798.4L1255 798.6L1255.5 798.5L1256 798.7L1256.5 799.0L1257 799.1L1257.5 798.9L1258 798.8L1259 799.1L1260 799.1L1261 799.1L1262 799.6L1263 799.9L1264 799.7L1265 799.5L1266 799.5L1267 799.5L1268 799.4L1270 799.4L1272 799.4L1274 799.5L1276 799.7L1278 799.8L1280 799.8L1282 799.7L1284 799.8L1286 799.6L1288 799.6L1290 799.7L1292 799.6L1294 799.5L1296 799.5L1298 799.7L1300 800.1L1302 800.0L1304 799.7L1306 799.8L1308 800.2L1310 800.3L1312 800.1L1314 799.9L1316 800.1L1318 800.0L1320 799.7L1322 800.0L1324 800.3L1326 800.1L1328 799.6L1330 799.6L1332 800.0L1334 799.9L1336 799.7L1338 799.7L1340 799.6L1342 799.6L1344 799.8L1346 799.8L1348 799.8L1350 799.9L1352 799.9L1354 799.9L1356 800.1L1358 800.3L1360 800.1L1362 799.5L1364 799.1L1366 799.2L1368 799.5L1370 799.6L1372 799.4L1374 799.2L1376 799.2L1378 799.4L1380 799.3L1382 798.7L1384 798.0L1386 796.7L1388 795.1L1390 795.1L1392 795.9L1394 796.6L1396 797.5L1398 798.3L1400 799.0L1402 799.4L1404 799.4L1406 799.5L1408 799.4L1410 799.3L1412 799.4L1414 799.6L1416 799.8L1418 799.9L1420 799.8L1422 799.4L1424 799.0L1426 798.9L1428 799.1L1430 799.1L1432 798.8L1434 798.4L1436 797.9L1437 797.7L1438 797.8L1439 797.9L1440 797.6L1441 797.2L1442 796.6L1443 795.8L1444 795.3L1445 795.4L1446 795.1L1446.5 794.3L1447 793.4L1447.5 792.6L1448 791.8L1448.5 791.1L1449 790.4L1449.5 789.6L1450 788.3L1450.5 786.6L1451 784.4L1451.5 782.1L1452 779.5L1452.5 776.5L1453 772.5L1453.5 767.6L1454 762.1L1454.5 756.1L1455 749.1L1455.5 741.6L1456 734.2L1456.5 726.6L1457 720.1L1457.5 715.7L1458 713.9L1458.5 715.1L1459 718.6L1459.5 723.0L1460 727.6L1460.5 732.0L1461 736.0L1461.5 739.2L1462 742.1L1462.5 744.8L1463 747.3L1463.5 750.4L1464 754.2L1464.5 758.3L1465 762.6L1465.5 766.7L1466 770.9L1466.5 774.8L1467 778.1L1467.5 781.0L1468 783.5L1468.5 785.7L1469 787.5L1469.5 788.7L1470 789.6L1470.5 790.7L1471 791.8L1471.5 792.5L1472 793.1L1472.5 794.0L1473 794.7L1473.5 794.9L1474 795.2L1475 795.8L1476 796.1L1477 796.7L1478 797.1L1479 797.3L1480 797.2L1481 797.4L1482 797.7L1483 798.0L1484 798.0L1486 798.1L1488 798.5L1490 798.8L1492 798.9L1494 799.0L1496 799.3L1498 799.5L1500 799.5L1502 799.5L1504 799.6L1506 799.6L1508 799.5L1510 799.4L1512 799.4L1514 799.4L1516 799.4L1518 799.3L1520 799.2L1522 798.7L1524 798.0L1526 797.2L1528 796.4L1530 796.8L1532 797.8L1534 798.2L1536 798.7L1538 799.3L1540 799.3L1542 799.2L1544 799.4L1546 799.6L1548 799.5L1550 799.2L1552 799.3L1554 799.7L1556 800.0L1558 800.1L1560 800.1L1562 800.0L1564 800.0L1566 800.2L1568 800.0L1570 799.9L1572 799.8L1574 799.8L1576 799.7L1578 799.8L1580 800.0L1582 800.0L1584 800.0L1586 800.0L1588 799.7L1590 799.3L1592 799.1L1594 799.1L1596 799.1L1598 798.9L1600 799.3L1602 799.6L1604 799.6L1606 799.8L1608 800.1L1610 799.9L1612 799.9L1614 800.3L1616 800.6L1618 800.3L1620 800.0L1622 800.1L1624 800.2L1626 800.2L1628 800.2L1630 800.2L1632 800.2L1634 800.0L1636 800.0L1638 800.0L1639 799.9L1640 799.8L1641 799.6L1642 799.4L1643 799.5L1644 799.6L1645 799.5L1646 799.7L1647 799.4L1647.5 799.0L1648 799.1L1648.5 799.2L1649 799.0L1649.5 799.0L1650 799.0L1650.5 798.7L1651 798.5L1651.5 798.2L1652 797.9L1652.5 797.8L1653 797.5L1653.5 797.3L1654 796.9L1654.5 796.3L1655 796.1L1655.5 795.9L1656 795.4L1656.5 795.0L1657 794.5L1657.5 793.9L1658 793.3L1658.5 793.1L1659 793.2L1659.5 793.2L1660 793.1L1660.5 793.4L1661 793.8L1661.5 794.1L1662 794.3L1662.5 794.5L1663 794.5L1663.5 794.5L1664 794.8L1664.5 795.3L1665 795.8L1665.5 795.9L1666 795.9L1666.5 796.5L1667 796.9L1667.5 796.9L1668 796.7L1668.5 796.9L1669 797.3L1669.5 797.6L1670 798.2L1670.5 798.8L1671 799.0L1671.5 799.1L1672 799.2L1672.5 799.3L1673 799.1L1673.5 799.2L1674 799.7L1674.5 799.6L1675 799.3L1676 799.5L1677 799.7L1678 799.7L1679 799.9L1680 799.7L1681 799.7L1682 799.9L1683 800.0L1684 799.9L1685 799.8L1687 799.9L1689 800.1L1691 800.4L1693 800.4L1695 800.2L1697 799.9L1699 799.9L1701 800.2L1703 800.3L1705 800.3L1707 800.2L1709 800.0L1711 799.7L1713 799.5L1715 799.6L1717 799.4L1719 798.8L1721 798.5L1723 798.2L1725 798.1L1727 798.2L1729 798.4L1731 798.9L1733 799.6L1735 799.9L1737 800.0L1739 800.1L1741 800.0L1743 800.0L1745 800.0L1747 800.0L1749 800.0L1751 800.0L1753 800.0L1755 800.2L1757 800.1L1759 799.9L1761 799.9L1763 799.6L1765 799.4L1766 799.6L1767 799.7L1768 799.4L1769 799.5L1770 799.8L1771 799.6L1772 799.1L1773 799.1L1774 799.2L1775 798.8L1775.5 798.8L1776 799.2L1776.5 798.9L1777 798.4L1777.5 798.3L1778 798.2L1778.5 797.8L1779 797.5L1779.5 797.3L1780 797.4L1780.5 797.3L1781 796.8L1781.5 796.4L1782 796.2L1782.5 795.6L1783 794.9L1783.5 794.5L1784 794.3L1784.5 794.2L1785 794.1L1785.5 793.9L1786 793.5L1786.5 793.1L1787 793.0L1787.5 793.1L1788 793.3L1788.5 793.5L1789 793.5L1789.5 793.6L1790 793.9L1790.5 794.3L1791 794.7L1791.5 795.0L1792 795.1L1792.5 795.2L1793 795.4L1793.5 795.6L1794 795.9L1794.5 796.0L1795 796.2L1795.5 796.4L1796 796.5L1796.5 796.6L1797 796.9L1797.5 797.5L1798 797.9L1798.5 798.0L1799 798.0L1799.5 798.1L1800 798.5L1800.5 798.6L1801 798.3L1801.5 798.1L1802 798.4L1802.5 798.6L1803.5 798.5L1804.5 798.7L1805.5 799.3L1806.5 799.7L1807.5 799.7L1808.5 799.5L1809.5 799.4L1810.5 799.3L1811.5 799.1L1812.5 799.3L1814.5 799.4L1816.5 799.2L1818.5 799.1L1820.5 799.1L1822.5 798.9L1824.5 798.6L1826.5 798.7L1828.5 798.7L1829.5 798.4L1830.5 798.0L1831.5 797.8L1832.5 797.6L1833.5 797.4L1834.5 796.9L1835.5 796.2L1836.5 795.8L1837.5 795.3L1838 794.9L1838.5 794.4L1839 793.9L1839.5 793.1L1840 792.4L1840.5 791.5L1841 790.6L1841.5 789.7L1842 788.6L1842.5 787.2L1843 785.7L1843.5 784.0L1844 782.0L1844.5 779.7L1845 777.3L1845.5 774.2L1846 771.2L1846.5 768.5L1847 765.4L1847.5 762.5L1848 760.7L1848.5 759.6L1849 759.0L1849.5 759.1L1850 760.5L1850.5 762.6L1851 764.4L1851.5 766.0L1852 767.5L1852.5 769.2L1853 770.6L1853.5 771.5L1854 772.4L1854.5 773.4L1855 774.3L1855.5 775.3L1856 776.6L1856.5 777.9L1857 779.4L1857.5 781.4L1858 783.1L1858.5 784.7L1859 786.1L1859.5 787.5L1860 789.1L1860.5 790.2L1861 790.8L1861.5 791.6L1862 792.5L1862.5 793.2L1863 794.2L1863.5 794.9L1864 795.4L1864.5 795.8L1865 796.0L1866 796.5L1867 796.9L1868 797.3L1869 797.7L1870 798.0L1871 798.0L1872 798.1L1873 798.4L1874 798.6L1875 798.9L1877 799.2L1879 799.1L1881 799.0L1883 799.2L1885 799.5L1887 799.5L1889 799.4L1890 799.3L1891 799.4L1892 799.6L1893 799.5L1894 799.4L1895 799.5L1896 799.7L1897 799.6L1898 799.4L1898.5 799.4L1899 799.0L1899.5 798.9L1900 798.9L1900.5 798.7L1901 798.5L1901.5 798.4L1902 798.3L1902.5 798.1L1903 797.8L1903.5 797.6L1904 797.4L1904.5 797.4L1905 797.2L1905.5 796.7L1906 796.4L1906.5 796.1L1907 795.5L1907.5 795.1L1908 794.7L1908.5 794.5L1909 794.4L1909.5 794.2L1910 793.9L1910.5 793.9L1911 794.0L1911.5 794.1L1912 794.1L1912.5 794.6L1913 795.2L1913.5 795.4L1914 795.4L1914.5 795.2L1915 795.3L1915.5 795.7L1916 795.7L1916.5 795.5L1917 795.8L1917.5 796.3L1918 796.4L1918.5 796.4L1919 796.6L1919.5 797.1L1920 797.7L1920.5 798.0L1921 798.2L1921.5 798.2L1922 798.4L1922.5 798.7L1923 798.9L1923.5 798.8L1924 799.1L1924.5 799.4L1925 799.1L1925.5 798.9L1926 799.1L1927 799.4L1928 799.4L1929 799.5L1930 799.7L1931 799.8L1932 799.8L1933 799.8L1934 800.0L1935 800.1L1936 799.9L1938 799.8L1940 799.8L1942 799.8L1944 800.2L1946 800.3L1948 800.1L1950 800.0L1952 800.1L1954 799.9L1956 799.6L1958 799.6L1960 799.6L1962 799.3L1964 798.7L1966 798.1L1968 797.7L1970 796.9L1972 796.3L1974 796.5L1976 796.8L1978 797.2L1980 798.0L1982 798.8L1984 799.2L1986 799.4L1988 799.4L1990 799.5L1992 799.6L1994 799.9L1996 800.5L1998 800.8L2000 800.6L2002 800.3L2004 800.2L2006 800.4L2008 800.5L2010 800.4L2012 800.4L2014 800.4L2016 800.5L2018 800.6L2020 800.4L2022 800.3L2024 800.3L2026 799.6L2028 799.0L2030 799.1L2032 799.3L2034 799.4L2036 799.6L2038 799.8L2040 800.3L2042 800.5L2044 800.5L2046 800.5L2048 800.5L2050 800.7L2052 800.7L2054 800.5L2056 800.4L2058 800.2L2060 800.1L2062 800.4L2064 800.6L2066 800.7L2068 800.8L2070 800.6L2072 800.4L2074 800.4L2076 800.6L2078 800.6L2080 800.7L2082 800.8L2084 800.7L2086 800.5L2088 800.4L2090 800.8L2092 801.2L2094 801.2L2096 800.8L2098 800.7L2100 800.9L2102 800.8L2104 800.6L2106 800.6L2108 800.5L2110 800.5L2112 800.6L2114 800.6L2116 800.7L2118 800.5L2120 800.4L2122 800.8L2124 800.9L2126 800.6L2128 800.5L2130 800.5L2132 800.8L2134 801.1L2136 800.7L2138 800.0L2140 799.5L2142 799.1L2144 798.7L2146 798.3L2148 798.4L2150 798.7L2152 798.7L2154 799.2L2156 799.9L2158 800.1L2160 800.1L2162 800.2L2164 800.2L2166 800.2L2168 800.2L2170 800.1L2172 800.0L2174 800.4L2176 800.7L2178 800.9L2180 801.1L2182 801.1L2184 801.2L2186 801.1L2188 801.0L2190 801.2L2192 801.3L2194 800.9L2196 800.5L2198 800.5L2200 800.5L2202 800.2L2204 800.1L2206 800.2L2208 800.0L2210 800.0L2212 800.1L2214 800.3L2216 800.6L2218 800.7L2220 800.5L2222 800.4L2223 800.5"/>
<path class="cv" shape-rendering="crispEdges" stroke="#AF78DE" d="M201 576.7L203 576.5L205 576.4L207 576.2L209 576.0L211 576.1L213 576.1L215 576.2L217 576.4L219 576.5L221 576.4L223 576.3L225 576.2L227 576.4L229 576.4L231 576.5L233 576.6L235 576.5L237 576.1L239 575.7L241 575.9L242 576.3L243 576.5L244 576.3L245 575.9L246 575.8L247 576.0L248 576.0L249 575.7L250 575.4L250.5 575.1L251 575.3L251.5 575.3L252 574.9L252.5 574.7L253 574.6L253.5 574.2L254 573.8L254.5 573.6L255 573.3L255.5 572.8L256 572.1L256.5 571.0L257 569.6L257.5 567.7L258 564.9L258.5 561.2L259 556.4L259.5 550.3L260 543.4L260.5 536.5L261 530.8L261.5 527.1L262 528.1L262.5 534.5L263 541.8L263.5 547.8L264 552.1L264.5 557.9L265 563.9L265.5 568.2L266 571.0L266.5 572.9L267 574.0L267.5 574.8L268 575.4L268.5 575.4L269 575.5L269.5 575.7L270 575.4L270.5 575.6L271 576.3L271.5 576.5L272 576.1L272.5 576.0L273 576.2L273.5 576.4L274 576.3L274.5 576.1L275 576.0L275.5 576.1L276 576.2L276.5 576.2L277 576.2L277.5 576.2L278 576.2L279 576.6L280 576.8L281 576.4L282 576.3L283 576.5L284 576.7L285 576.7L286 576.7L287 576.5L288 576.5L290 576.8L292 576.7L294 576.3L296 576.2L298 576.4L300 576.6L302 576.7L304 576.9L306 576.8L308 576.7L310 576.9L312 577.0L314 576.9L316 576.9L318 576.7L320 576.4L322 576.3L324 576.5L326 576.7L328 576.5L330 576.2L332 576.4L334 576.8L336 576.9L338 576.8L340 576.7L342 576.9L344 576.8L346 576.4L348 576.5L350 576.9L352 577.0L354 577.1L356 577.1L358 576.8L360 576.8L362 576.9L364 576.9L366 576.9L368 577.2L370 577.6L372 577.4L374 577.3L376 577.4L378 577.5L380 577.4L382 577.0L384 576.6L386 576.5L388 576.5L390 576.8L392 577.2L394 577.3L396 577.3L398 577.2L400 577.1L402 577.0L404 577.0L406 577.3L408 577.4L410 577.5L412 577.4L414 577.0L416 577.0L418 577.0L420 577.0L422 577.0L424 577.1L426 577.0L428 577.0L430 577.2L432 577.2L434 577.2L436 577.2L438 577.2L440 577.3L442 577.4L444 577.3L446 577.2L448 577.4L450 577.5L452 577.4L454 577.3L456 577.2L458 577.3L460 577.2L462 577.1L464 577.4L466 577.4L468 577.1L470 577.3L472 577.6L474 577.6L476 577.4L478 576.9L480 576.8L482 577.0L484 577.1L486 577.2L488 577.3L490 577.3L492 577.4L494 577.5L496 577.6L498 577.8L500 577.8L502 577.7L504 577.6L506 577.5L508 577.5L510 577.4L512 577.7L514 577.9L516 577.8L518 577.7L520 577.9L522 577.8L524 577.4L526 577.0L528 577.3L530 577.6L532 577.1L534 576.7L536 577.0L538 577.2L540 577.1L542 577.3L544 577.4L546 577.3L548 577.5L550 577.7L552 577.5L554 577.4L556 577.6L558 577.7L560 577.6L562 577.5L564 577.7L566 578.0L568 577.7L570 577.6L572 577.8L574 577.9L576 577.7L578 577.6L580 577.6L582 577.5L584 577.4L586 577.7L588 577.9L590 577.7L592 577.4L594 577.0L596 577.1L598 577.4L600 577.6L602 577.6L604 577.5L606 577.2L608 576.9L609 576.9L610 577.0L611 576.9L612 576.5L613 576.4L614 576.4L615 576.4L616 576.0L617 575.2L617.5 574.8L618 574.7L618.5 574.9L619 574.5L619.5 574.0L620 573.9L620.5 573.4L621 572.7L621.5 572.1L622 571.1L622.5 569.6L623 568.3L623.5 566.4L624 563.2L624.5 558.5L625 551.8L625.5 542.6L626 530.7L626.5 516.8L627 501.0L627.5 484.2L628 469.0L628.5 459.1L629 456.4L629.5 459.5L630 466.3L630.5 474.4L631 481.7L631.5 489.5L632 499.1L632.5 510.1L633 521.9L633.5 533.3L634 543.1L634.5 551.0L635 557.2L635.5 561.9L636 565.4L636.5 568.1L637 570.2L637.5 571.6L638 572.3L638.5 572.8L639 573.3L639.5 573.9L640 574.4L640.5 574.9L641 575.2L641.5 575.3L642 575.6L642.5 575.9L643 576.0L643.5 576.1L644 576.2L644.5 576.3L645 576.2L646 576.2L647 576.4L648 576.8L649 577.1L650 577.2L651 577.1L652 577.1L653 577.3L654 577.3L655 577.3L657 577.7L659 577.9L661 577.7L663 577.5L665 577.7L667 577.7L669 577.7L671 577.9L673 578.1L675 578.1L677 578.0L679 577.9L681 578.1L683 578.1L685 578.0L687 578.2L689 578.4L691 578.1L693 578.0L695 578.3L697 578.2L699 577.9L701 577.8L703 577.9L705 578.1L707 578.4L709 578.3L711 577.9L713 578.0L715 578.4L717 578.3L719 578.1L721 577.9L723 577.5L725 576.8L727 576.1L729 575.3L731 575.3L733 576.1L735 577.2L737 577.7L739 577.8L741 577.9L743 578.0L745 578.3L747 578.5L749 578.6L751 578.7L753 578.5L755 578.1L757 577.9L759 577.9L761 578.0L763 578.3L765 578.5L767 578.8L769 578.7L771 578.5L773 578.2L775 578.2L777 578.4L779 578.3L781 578.1L783 578.1L785 578.3L787 578.5L789 578.3L791 578.1L793 578.1L795 578.2L797 578.0L799 577.6L801 577.6L803 577.9L805 578.0L806 577.7L807 577.2L808 577.1L809 577.4L810 577.0L811 576.5L812 576.3L813 576.0L814 575.5L814.5 575.4L815 575.2L815.5 574.6L816 574.1L816.5 573.8L817 573.3L817.5 572.7L818 572.0L818.5 571.1L819 570.1L819.5 569.0L820 567.4L820.5 565.0L821 561.8L821.5 557.5L822 551.4L822.5 543.1L823 532.4L823.5 519.2L824 503.8L824.5 487.0L825 470.2L825.5 456.5L826 449.1L826.5 448.8L827 453.9L827.5 461.8L828 469.8L828.5 476.9L829 483.3L829.5 489.9L830 497.9L830.5 508.0L831 519.0L831.5 529.5L832 539.1L832.5 547.3L833 553.7L833.5 558.9L834 562.9L834.5 565.9L835 568.2L835.5 569.8L836 571.1L836.5 572.1L837 572.9L837.5 573.6L838 574.3L838.5 574.8L839 574.6L839.5 574.4L840 574.9L840.5 575.3L841 575.4L841.5 575.8L842 576.2L843 576.4L844 576.8L845 577.1L846 577.0L847 577.0L848 577.3L849 577.4L850 577.7L851 578.0L852 578.0L854 578.0L856 578.0L858 578.2L860 578.3L862 578.5L864 578.6L866 578.4L868 578.5L870 578.6L872 578.7L874 578.6L876 578.6L878 578.7L880 578.9L882 579.0L884 578.8L886 578.5L888 578.4L890 578.4L892 578.6L894 578.9L896 578.8L897 578.4L898 578.1L899 578.1L900 578.1L901 578.2L902 578.4L903 578.6L904 578.6L905 578.0L905.5 577.5L906 577.6L906.5 577.8L907 577.7L907.5 577.7L908 577.7L908.5 577.3L909 577.1L909.5 576.8L910 576.5L910.5 575.9L911 575.3L911.5 574.8L912 574.1L912.5 573.4L913 572.3L913.5 570.9L914 568.9L914.5 566.7L915 564.9L915.5 563.4L916 561.8L916.5 560.2L917 559.3L917.5 559.2L918 559.4L918.5 560.1L919 561.1L919.5 562.0L920 563.0L920.5 564.2L921 565.4L921.5 566.4L922 567.7L922.5 569.3L923 570.7L923.5 572.2L924 573.4L924.5 574.2L925 574.8L925.5 575.5L926 576.2L926.5 576.7L927 577.2L927.5 577.6L928 577.7L928.5 577.8L929 578.1L929.5 578.3L930 578.1L930.5 578.2L931 578.4L931.5 578.4L932 578.3L932.5 578.2L933 578.4L934 578.6L935 578.4L936 578.4L937 578.6L938 578.9L939 579.0L940 578.7L941 578.4L942 578.4L943 579.0L945 579.4L947 579.2L949 578.9L951 579.3L953 579.4L955 579.0L957 579.0L959 579.3L961 579.3L963 579.2L965 579.1L967 578.9L969 578.8L971 579.0L973 579.3L975 579.4L977 579.6L979 579.5L981 579.4L983 579.6L985 579.6L987 579.4L989 579.4L991 579.4L993 579.2L995 579.0L997 578.7L999 578.1L1001 577.0L1003 576.5L1005 576.8L1007 577.1L1009 577.9L1011 579.1L1013 579.7L1015 579.8L1017 579.6L1019 579.1L1021 579.0L1023 579.6L1025 579.8L1027 579.5L1029 579.4L1031 579.7L1033 579.7L1035 579.5L1037 579.7L1039 579.6L1041 579.1L1043 579.1L1045 579.6L1047 579.8L1049 579.5L1051 579.3L1053 579.5L1055 579.6L1057 579.5L1059 579.3L1061 579.2L1063 579.3L1065 579.5L1067 579.6L1069 579.4L1071 579.1L1073 579.0L1075 579.1L1077 579.0L1079 578.3L1081 577.1L1083 575.7L1085 574.5L1087 574.4L1089 575.2L1091 576.4L1093 577.8L1095 578.7L1097 579.1L1099 579.4L1101 579.5L1103 579.4L1105 579.4L1107 579.6L1109 580.0L1111 580.2L1113 580.0L1115 579.8L1117 579.4L1119 579.2L1121 579.4L1123 579.6L1125 579.8L1127 580.0L1129 579.9L1131 579.8L1133 579.9L1135 579.7L1137 579.8L1139 580.0L1141 580.1L1143 580.3L1145 580.2L1147 580.0L1149 580.0L1151 579.8L1153 579.5L1155 579.5L1157 579.6L1159 579.4L1161 578.8L1163 578.6L1165 579.0L1167 579.4L1169 579.4L1171 579.6L1173 579.7L1175 579.7L1177 579.6L1179 579.7L1181 580.0L1183 580.1L1185 580.0L1187 580.0L1189 579.9L1191 579.7L1193 579.8L1195 579.9L1197 580.1L1199 580.2L1201 580.1L1203 580.0L1205 579.8L1207 579.7L1209 579.9L1211 580.0L1213 580.2L1215 580.0L1217 579.4L1219 579.3L1220 579.5L1221 579.5L1222 579.2L1223 579.2L1224 579.2L1225 579.1L1226 578.9L1227 578.8L1228 578.7L1228.5 578.7L1229 578.7L1229.5 578.8L1230 578.5L1230.5 578.0L1231 577.9L1231.5 578.1L1232 578.0L1232.5 577.3L1233 576.6L1233.5 576.2L1234 575.7L1234.5 575.0L1235 574.4L1235.5 573.6L1236 572.6L1236.5 571.5L1237 570.1L1237.5 568.6L1238 567.4L1238.5 566.3L1239 565.4L1239.5 565.2L1240 565.1L1240.5 564.9L1241 565.0L1241.5 565.5L1242 566.1L1242.5 566.9L1243 567.8L1243.5 568.4L1244 569.1L1244.5 569.9L1245 570.7L1245.5 571.6L1246 572.5L1246.5 573.2L1247 574.2L1247.5 575.3L1248 576.0L1248.5 576.3L1249 576.7L1249.5 577.1L1250 577.3L1250.5 577.5L1251 578.1L1251.5 578.6L1252 578.6L1252.5 578.6L1253 578.9L1253.5 579.1L1254 579.2L1254.5 579.4L1255 579.3L1255.5 579.0L1256 579.1L1257 579.2L1258 579.2L1259 579.6L1260 579.9L1261 580.1L1262 580.1L1263 580.0L1264 579.6L1265 579.2L1266 579.4L1268 579.7L1270 579.8L1272 579.8L1274 579.7L1276 579.8L1278 579.8L1280 579.7L1282 579.8L1284 580.0L1286 580.2L1288 580.3L1290 580.4L1292 580.2L1294 579.8L1296 579.7L1298 579.7L1300 580.2L1302 580.4L1304 580.3L1306 580.2L1308 580.1L1310 580.1L1312 580.2L1314 580.1L1316 580.0L1318 580.0L1320 580.4L1322 580.4L1324 580.2L1326 580.2L1328 580.2L1330 580.1L1332 580.2L1334 580.4L1336 580.3L1338 580.4L1340 580.3L1342 580.3L1344 580.5L1346 580.4L1348 580.4L1350 580.3L1352 580.2L1354 580.1L1356 579.9L1358 579.9L1360 580.1L1362 580.3L1364 580.4L1366 580.3L1367 579.9L1368 579.9L1369 580.2L1370 580.1L1371 580.1L1372 580.0L1373 579.8L1374 579.7L1375 579.7L1375.5 580.0L1376 579.9L1376.5 579.4L1377 579.2L1377.5 579.3L1378 579.3L1378.5 579.2L1379 579.1L1379.5 578.8L1380 578.3L1380.5 577.9L1381 577.7L1381.5 577.8L1382 577.3L1382.5 576.9L1383 576.6L1383.5 576.1L1384 575.7L1384.5 575.6L1385 575.3L1385.5 574.8L1386 574.6L1386.5 574.5L1387 574.2L1387.5 573.9L1388 574.1L1388.5 574.8L1389 575.4L1389.5 575.6L1390 575.4L1390.5 575.4L1391 575.9L1391.5 576.7L1392 576.8L1392.5 576.7L1393 577.3L1393.5 577.9L1394 577.9L1394.5 578.0L1395 578.1L1395.5 578.2L1396 578.4L1396.5 578.7L1397 579.1L1397.5 579.3L1398 579.3L1398.5 579.4L1399 579.6L1399.5 579.6L1400 579.5L1400.5 579.6L1401 579.6L1401.5 579.6L1402 579.6L1402.5 579.6L1403.5 579.6L1404.5 579.6L1405.5 579.9L1406.5 580.3L1407.5 580.2L1408.5 580.0L1409.5 579.9L1410.5 579.8L1411.5 579.6L1412.5 579.5L1414.5 579.6L1416.5 579.6L1418.5 579.6L1420.5 579.7L1422.5 579.7L1424.5 579.5L1426.5 579.5L1428.5 579.5L1430.5 579.4L1432.5 579.1L1434.5 578.6L1435.5 578.7L1436.5 579.0L1437.5 578.4L1438.5 577.5L1439.5 577.3L1440.5 577.3L1441.5 577.0L1442.5 576.6L1443.5 576.0L1444.5 575.5L1445 575.0L1445.5 574.3L1446 573.9L1446.5 573.5L1447 572.7L1447.5 571.5L1448 570.4L1448.5 569.3L1449 568.1L1449.5 566.6L1450 564.0L1450.5 561.0L1451 558.2L1451.5 554.8L1452 550.3L1452.5 545.6L1453 540.6L1453.5 535.0L1454 529.3L1454.5 524.0L1455 519.6L1455.5 516.9L1456 515.9L1456.5 516.7L1457 519.0L1457.5 522.5L1458 526.2L1458.5 529.7L1459 532.7L1459.5 535.1L1460 537.4L1460.5 539.9L1461 542.4L1461.5 544.9L1462 547.5L1462.5 550.6L1463 553.8L1463.5 556.8L1464 559.6L1464.5 562.1L1465 564.1L1465.5 566.1L1466 568.0L1466.5 569.5L1467 571.1L1467.5 572.4L1468 573.0L1468.5 573.6L1469 574.2L1469.5 574.9L1470 575.5L1470.5 575.9L1471 576.2L1471.5 576.5L1472 576.9L1473 577.5L1474 577.9L1475 578.1L1476 578.1L1477 578.3L1478 578.7L1479 579.0L1480 579.1L1481 579.4L1482 579.5L1484 579.7L1486 579.9L1488 579.8L1490 579.8L1492 579.9L1494 579.9L1496 579.8L1498 579.7L1500 579.9L1502 580.3L1504 580.0L1506 579.7L1508 579.9L1510 579.9L1512 579.8L1514 579.6L1516 579.5L1518 579.7L1520 579.9L1522 579.5L1524 578.9L1526 578.4L1528 578.6L1530 579.2L1532 579.5L1534 579.6L1536 580.0L1538 580.4L1540 580.3L1542 580.1L1544 580.2L1546 580.1L1548 580.0L1550 580.0L1552 580.1L1554 580.0L1556 579.9L1558 579.9L1560 580.1L1562 580.1L1564 580.3L1566 580.7L1568 580.9L1570 580.9L1572 580.8L1574 580.7L1576 580.5L1578 580.1L1580 580.1L1582 580.0L1584 579.8L1586 579.6L1588 579.4L1590 579.4L1592 579.5L1594 579.7L1596 580.1L1598 580.2L1600 580.5L1602 580.7L1604 580.2L1606 580.1L1608 580.5L1610 580.7L1612 580.6L1614 580.6L1616 580.6L1618 580.6L1620 580.4L1622 580.0L1624 580.1L1626 580.4L1628 580.5L1630 580.4L1632 580.3L1634 580.1L1636 580.0L1637 580.2L1638 580.2L1639 580.1L1640 580.1L1641 580.1L1642 579.8L1643 579.4L1644 579.5L1645 579.7L1645.5 579.3L1646 578.9L1646.5 578.8L1647 578.4L1647.5 578.1L1648 578.2L1648.5 578.2L1649 578.1L1649.5 577.8L1650 577.6L1650.5 577.3L1651 576.7L1651.5 576.1L1652 575.7L1652.5 575.0L1653 574.1L1653.5 573.6L1654 573.3L1654.5 572.9L1655 572.2L1655.5 571.4L1656 571.0L1656.5 570.7L1657 570.5L1657.5 570.7L1658 570.9L1658.5 571.2L1659 571.5L1659.5 571.9L1660 572.4L1660.5 572.7L1661 573.3L1661.5 573.8L1662 573.8L1662.5 573.8L1663 574.3L1663.5 574.9L1664 575.4L1664.5 575.5L1665 575.9L1665.5 576.5L1666 577.0L1666.5 577.4L1667 577.4L1667.5 577.6L1668 578.0L1668.5 578.1L1669 578.2L1669.5 578.3L1670 578.3L1670.5 578.4L1671 578.7L1671.5 579.1L1672 579.3L1672.5 579.5L1673 579.8L1674 579.9L1675 580.0L1676 580.0L1677 579.7L1678 579.7L1679 579.9L1680 580.0L1681 580.4L1682 580.2L1683 579.8L1685 579.9L1687 580.3L1689 580.6L1691 580.6L1693 580.2L1695 580.0L1697 580.4L1699 580.5L1701 580.3L1703 580.3L1705 580.2L1707 579.9L1709 579.9L1711 580.0L1713 579.7L1715 579.6L1717 579.4L1719 578.9L1721 578.6L1723 578.8L1725 579.1L1727 579.5L1729 579.7L1731 579.9L1733 580.2L1735 580.2L1737 580.4L1739 580.4L1741 580.4L1743 580.3L1745 580.1L1747 579.9L1749 579.9L1751 580.1L1753 580.2L1755 579.9L1757 579.6L1759 580.0L1761 580.4L1763 580.3L1765 580.2L1767 580.3L1769 580.2L1771 580.0L1773 579.7L1775 579.2L1777 578.5L1779 577.6L1781 576.6L1783 575.7L1785 575.4L1787 575.9L1789 576.6L1791 577.4L1793 577.9L1795 578.4L1797 579.0L1799 579.4L1801 579.7L1803 579.7L1805 579.6L1807 579.6L1809 579.9L1811 579.7L1813 579.4L1815 579.5L1817 579.4L1819 579.1L1821 579.1L1823 579.2L1825 578.9L1826 578.8L1827 578.5L1828 578.0L1829 577.6L1830 577.1L1831 576.8L1832 576.4L1833 575.7L1834 574.9L1835 574.2L1835.5 573.9L1836 573.4L1836.5 572.3L1837 571.4L1837.5 570.4L1838 569.4L1838.5 568.4L1839 567.0L1839.5 565.3L1840 563.5L1840.5 561.7L1841 559.3L1841.5 556.2L1842 552.9L1842.5 549.6L1843 546.0L1843.5 541.7L1844 537.2L1844.5 533.1L1845 529.6L1845.5 527.0L1846 525.2L1846.5 524.0L1847 524.0L1847.5 525.8L1848 528.9L1848.5 531.9L1849 534.4L1849.5 536.8L1850 538.9L1850.5 540.9L1851 542.8L1851.5 544.2L1852 545.4L1852.5 546.7L1853 548.2L1853.5 550.1L1854 552.2L1854.5 554.2L1855 556.3L1855.5 558.6L1856 560.8L1856.5 562.8L1857 564.6L1857.5 566.4L1858 567.9L1858.5 569.0L1859 570.0L1859.5 570.8L1860 571.5L1860.5 572.5L1861 573.7L1861.5 574.4L1862 574.7L1862.5 575.0L1863.5 575.7L1864.5 576.4L1865.5 576.8L1866.5 577.3L1867.5 577.7L1868.5 577.9L1869.5 578.3L1870.5 578.5L1871.5 578.6L1872.5 578.6L1874.5 579.1L1876.5 579.6L1878.5 579.8L1880.5 580.1L1882.5 580.2L1884.5 579.8L1886.5 579.5L1887.5 579.6L1888.5 579.7L1889.5 579.9L1890.5 579.9L1891.5 579.7L1892.5 579.4L1893.5 579.5L1894.5 579.4L1895.5 579.0L1896.5 579.1L1897 579.1L1897.5 578.6L1898 578.5L1898.5 578.6L1899 578.4L1899.5 578.0L1900 577.8L1900.5 577.7L1901 577.3L1901.5 576.8L1902 576.4L1902.5 576.0L1903 575.6L1903.5 575.0L1904 574.5L1904.5 574.0L1905 573.6L1905.5 573.3L1906 572.6L1906.5 571.7L1907 571.4L1907.5 571.7L1908 571.9L1908.5 571.7L1909 571.7L1909.5 571.9L1910 572.3L1910.5 572.8L1911 573.2L1911.5 573.6L1912 573.9L1912.5 574.1L1913 574.5L1913.5 574.9L1914 575.2L1914.5 575.2L1915 575.4L1915.5 576.0L1916 576.3L1916.5 576.6L1917 577.2L1917.5 577.4L1918 577.6L1918.5 578.1L1919 578.6L1919.5 578.6L1920 578.5L1920.5 578.6L1921 578.6L1921.5 578.5L1922 578.6L1922.5 578.9L1923 579.2L1923.5 579.6L1924 580.0L1925 580.1L1926 580.1L1927 580.2L1928 580.2L1929 580.2L1930 580.3L1931 580.4L1932 580.6L1933 580.8L1934 580.7L1936 580.7L1938 580.9L1940 581.0L1942 580.8L1944 580.8L1946 580.8L1948 580.9L1950 580.8L1952 580.8L1954 580.9L1956 580.8L1958 580.3L1960 580.1L1962 580.1L1964 579.8L1966 579.3L1968 579.1L1970 579.1L1972 579.1L1974 579.2L1976 579.3L1978 579.8L1980 580.4L1982 580.2L1984 580.1L1986 580.3L1988 580.5L1990 580.8L1992 580.9L1994 581.0L1996 581.1L1998 581.1L2000 581.1L2002 581.1L2004 581.2L2006 581.0L2008 581.0L2010 581.2L2012 581.1L2014 581.1L2016 581.2L2018 581.2L2020 581.2L2022 581.0L2024 580.7L2026 580.4L2028 580.1L2030 580.1L2032 580.4L2034 580.5L2036 580.7L2038 581.0L2040 581.4L2042 581.5L2044 581.3L2046 581.0L2048 580.8L2050 580.7L2052 580.8L2054 581.1L2056 581.3L2058 581.2L2060 581.0L2062 581.1L2064 581.2L2066 581.1L2068 581.1L2070 581.2L2072 581.4L2074 581.5L2076 581.2L2078 581.0L2080 581.3L2082 581.2L2084 581.1L2086 581.3L2088 581.5L2090 581.4L2092 581.4L2094 581.3L2096 581.1L2098 581.3L2100 581.4L2102 581.3L2104 581.3L2106 581.2L2108 581.2L2110 581.3L2112 581.2L2114 580.9L2116 581.0L2118 581.3L2120 581.4L2122 581.2L2124 581.1L2126 581.3L2128 581.8L2130 581.6L2132 580.8L2134 580.5L2136 580.5L2138 580.4L2140 579.6L2142 578.4L2144 578.1L2146 578.7L2148 579.2L2150 579.5L2152 579.9L2154 580.3L2156 580.5L2158 580.9L2160 581.3L2162 581.1L2164 581.1L2166 581.4L2168 581.4L2170 581.3L2172 581.4L2174 581.5L2176 581.4L2178 581.3L2180 581.5L2182 581.5L2184 581.4L2186 581.4L2188 581.3L2190 581.2L2192 581.3L2194 581.4L2196 581.2L2198 580.9L2200 580.6L2202 580.4L2204 580.5L2206 580.7L2208 580.9L2210 581.2L2212 581.5L2214 581.3L2216 581.2L2218 581.4L2220 581.6L2222 581.7L2223 581.8"/>
<path class="cv" shape-rendering="crispEdges" stroke="#C99700" d="M201 417.2L203 417.3L205 417.2L207 417.2L209 417.1L211 416.9L213 416.8L215 417.0L217 417.1L219 417.2L221 417.3L223 417.4L225 417.5L227 417.4L229 417.3L231 417.3L233 417.5L235 417.6L237 417.5L239 417.3L241 417.1L242 417.0L243 417.0L244 416.9L245 416.9L246 416.6L247 416.7L248 417.2L249 417.3L250 416.9L250.5 416.3L251 415.9L251.5 415.9L252 415.9L252.5 416.1L253 416.0L253.5 415.8L254 415.6L254.5 415.5L255 415.5L255.5 414.9L256 414.1L256.5 413.3L257 412.0L257.5 410.2L258 407.9L258.5 404.4L259 400.1L259.5 395.4L260 390.4L260.5 385.2L261 380.8L261.5 378.9L262 382.5L262.5 388.6L263 393.7L263.5 397.0L264 401.2L264.5 406.3L265 410.5L265.5 413.1L266 414.4L266.5 415.3L267 415.9L267.5 416.2L268 416.2L268.5 416.5L269 417.0L269.5 417.3L270 417.5L270.5 417.1L271 416.7L271.5 417.1L272 417.3L272.5 417.1L273 417.0L273.5 417.2L274 417.5L274.5 417.5L275 417.5L275.5 417.5L276 417.4L276.5 417.3L277 417.5L277.5 417.8L278.5 417.9L279.5 417.6L280.5 417.4L281.5 417.7L282.5 417.7L283.5 417.4L284.5 417.4L285.5 417.6L286.5 417.4L287.5 417.3L289.5 417.5L291.5 417.4L293.5 417.6L295.5 417.7L297.5 417.5L299.5 417.3L301.5 417.4L303.5 417.7L305.5 417.8L307.5 417.8L309.5 417.8L311.5 417.8L313.5 418.1L315.5 418.4L317.5 418.2L319.5 418.0L321.5 418.2L323.5 418.2L325.5 418.0L327.5 417.8L329.5 417.7L331.5 418.0L333.5 418.3L335.5 418.2L337.5 417.9L339.5 417.8L341.5 417.9L343.5 417.8L345.5 417.7L347.5 417.8L349.5 417.8L351.5 417.9L353.5 417.8L355.5 417.8L357.5 418.0L359.5 417.8L361.5 417.5L363.5 417.6L365.5 417.9L367.5 418.0L369.5 418.2L371.5 418.1L373.5 417.9L375.5 417.9L377.5 417.9L379.5 417.8L381.5 417.8L383.5 417.9L385.5 417.9L387.5 417.9L389.5 417.7L391.5 417.7L393.5 417.9L395.5 418.1L397.5 418.3L399.5 418.2L401.5 418.0L403.5 418.1L405.5 418.2L407.5 418.3L409.5 418.6L411.5 418.4L413.5 418.1L415.5 418.1L417.5 418.3L419.5 418.3L421.5 418.1L423.5 417.6L425.5 417.3L427.5 417.7L429.5 417.9L431.5 418.2L433.5 418.6L435.5 418.6L437.5 418.4L439.5 418.2L441.5 418.3L443.5 418.1L445.5 417.9L447.5 418.1L449.5 418.2L451.5 418.2L453.5 418.5L455.5 418.3L457.5 417.8L459.5 417.8L461.5 418.4L463.5 418.7L465.5 418.5L467.5 418.2L469.5 418.2L471.5 418.4L473.5 418.4L475.5 418.4L477.5 418.7L479.5 418.6L481.5 418.4L483.5 418.4L485.5 418.4L487.5 418.5L489.5 418.5L491.5 418.4L493.5 418.4L495.5 418.6L497.5 418.7L499.5 418.6L501.5 418.4L503.5 418.3L505.5 418.3L507.5 418.6L509.5 418.6L511.5 418.6L513.5 418.7L515.5 418.7L517.5 418.5L519.5 418.5L521.5 418.8L523.5 418.8L525.5 418.8L527.5 418.8L529.5 418.8L531.5 418.9L533.5 418.7L535.5 418.6L537.5 418.6L539.5 418.6L541.5 418.6L543.5 418.6L545.5 418.6L547.5 418.7L549.5 418.9L551.5 419.1L553.5 418.8L555.5 418.5L557.5 418.5L559.5 418.8L561.5 418.7L563.5 418.7L565.5 418.7L567.5 418.4L569.5 418.4L571.5 418.6L573.5 418.6L575.5 418.7L577.5 419.0L579.5 419.1L581.5 418.9L583.5 418.8L585.5 418.8L587.5 418.8L589.5 419.0L591.5 419.0L593.5 418.9L595.5 418.5L597.5 418.2L599.5 418.2L601.5 418.4L603.5 418.3L605.5 418.4L607.5 418.6L608.5 418.6L609.5 418.4L610.5 418.3L611.5 418.4L612.5 418.2L613.5 417.7L614.5 417.4L615.5 417.4L616.5 417.6L617.5 417.6L618 417.3L618.5 417.0L619 416.9L619.5 416.6L620 415.9L620.5 415.6L621 415.7L621.5 415.1L622 414.3L622.5 413.6L623 412.3L623.5 410.5L624 408.3L624.5 405.3L625 401.0L625.5 395.4L626 388.4L626.5 380.0L627 370.7L627.5 360.8L628 352.1L628.5 346.9L629 345.4L629.5 346.7L630 350.0L630.5 354.2L631 359.0L631.5 364.2L632 370.2L632.5 377.0L633 384.1L633.5 390.5L634 396.0L634.5 400.7L635 405.1L635.5 408.6L636 410.7L636.5 412.2L637 413.5L637.5 414.5L638 415.0L638.5 415.2L639 415.6L639.5 416.2L640 416.7L640.5 416.8L641 417.1L641.5 417.3L642 417.3L642.5 417.2L643 417.5L643.5 417.8L644 417.6L644.5 417.5L645 417.7L646 418.1L647 418.3L648 418.5L649 418.7L650 418.6L651 418.3L652 418.2L653 418.6L654 418.9L655 418.9L657 418.9L659 418.8L661 418.8L663 418.5L665 418.3L667 418.6L669 419.1L671 419.3L673 419.4L675 419.4L677 419.1L679 419.0L681 419.0L683 419.0L685 419.2L687 419.1L689 419.0L691 419.2L693 419.2L695 419.2L697 419.3L699 419.2L701 419.2L703 419.4L705 419.4L707 419.3L709 419.5L711 419.6L713 419.5L715 419.3L717 419.1L719 419.3L721 419.4L723 418.9L725 418.2L727 417.2L729 416.2L731 416.0L733 416.8L735 418.2L737 419.0L739 419.3L741 419.3L743 419.2L745 419.3L747 419.7L749 420.0L751 419.6L753 419.0L755 419.1L757 419.4L759 419.3L761 419.5L763 419.6L765 419.2L767 419.1L769 419.1L771 419.2L773 419.2L775 419.2L777 419.1L779 418.8L781 418.9L783 419.0L785 418.9L787 419.0L789 418.8L791 418.7L793 418.7L795 418.8L797 418.9L799 418.8L801 418.5L803 418.1L805 417.8L806 417.6L807 417.3L808 417.0L809 417.0L810 416.7L811 415.7L812 415.2L813 414.7L814 413.7L815 412.4L815.5 411.7L816 410.9L816.5 410.2L817 409.3L817.5 408.1L818 407.2L818.5 405.5L819 403.3L819.5 401.3L820 398.6L820.5 394.0L821 388.3L821.5 380.3L822 369.0L822.5 354.6L823 336.0L823.5 312.1L824 283.9L824.5 253.1L825 222.3L825.5 196.0L826 179.3L826.5 175.2L827 182.5L827.5 195.9L828 210.6L828.5 223.8L829 235.6L829.5 247.9L830 263.0L830.5 281.7L831 302.2L831.5 322.4L832 341.0L832.5 357.1L833 370.3L833.5 380.4L834 388.0L834.5 394.0L835 398.5L835.5 401.9L836 404.5L836.5 406.4L837 407.8L837.5 409.3L838 410.6L838.5 411.3L839 411.8L839.5 412.4L840 413.0L840.5 413.4L841 413.8L841.5 414.3L842 414.5L842.5 414.8L843.5 415.6L844.5 416.3L845.5 417.0L846.5 417.3L847.5 417.2L848.5 417.5L849.5 417.8L850.5 417.8L851.5 418.0L852.5 418.2L854.5 418.6L856.5 419.0L858.5 419.5L860.5 419.6L862.5 419.3L864.5 419.3L866.5 419.5L868.5 419.4L870.5 419.5L872.5 419.6L874.5 419.6L876.5 419.8L878.5 419.7L880.5 419.6L882.5 419.6L884.5 419.6L886.5 419.4L888.5 419.2L890.5 419.4L892.5 419.5L894.5 419.4L896.5 419.7L897.5 419.9L898.5 419.7L899.5 419.6L900.5 419.6L901.5 419.5L902.5 419.2L903.5 418.7L904.5 418.9L905.5 419.2L906 418.9L906.5 418.7L907 418.5L907.5 418.5L908 418.5L908.5 418.3L909 418.1L909.5 417.9L910 417.3L910.5 416.8L911 416.4L911.5 415.8L912 414.7L912.5 413.3L913 411.8L913.5 409.7L914 407.0L914.5 403.7L915 399.8L915.5 395.8L916 392.1L916.5 388.9L917 387.1L917.5 387.3L918 388.8L918.5 390.6L919 392.3L919.5 393.8L920 395.2L920.5 396.7L921 398.5L921.5 400.7L922 403.2L922.5 405.7L923 408.2L923.5 410.5L924 412.6L924.5 413.9L925 415.1L925.5 416.2L926 417.0L926.5 417.3L927 417.4L927.5 417.8L928 418.2L928.5 418.4L929 418.7L929.5 419.0L930 419.0L930.5 418.9L931 418.8L931.5 418.8L932 419.1L932.5 419.5L933 419.4L934 419.2L935 419.4L936 419.7L937 419.7L938 419.5L939 419.8L940 420.4L941 420.6L942 420.1L943 419.7L945 419.7L947 419.8L949 420.1L951 420.5L953 420.4L955 419.9L957 420.0L959 420.2L961 420.2L963 420.1L965 420.3L967 420.6L969 420.4L971 420.4L973 420.7L975 420.5L977 420.0L979 420.0L981 420.3L983 420.3L985 420.2L987 420.4L989 420.5L991 420.3L993 419.8L995 419.5L997 419.4L999 418.9L1001 417.6L1003 416.5L1005 416.4L1007 416.8L1009 418.0L1011 419.1L1013 419.5L1015 419.7L1017 420.1L1019 420.5L1021 420.6L1023 420.3L1025 420.4L1027 421.0L1029 421.1L1031 420.7L1033 420.5L1035 420.7L1037 420.7L1039 420.6L1041 420.6L1043 420.4L1045 420.2L1047 420.3L1049 420.7L1051 420.9L1053 420.7L1055 420.6L1057 420.5L1059 420.4L1061 420.7L1063 421.0L1065 420.8L1067 420.6L1069 420.7L1071 420.6L1073 420.5L1075 420.5L1077 420.1L1079 419.8L1081 419.1L1083 417.8L1085 416.9L1087 417.0L1089 417.6L1091 418.5L1093 419.6L1095 420.1L1097 420.3L1099 420.5L1101 420.6L1103 420.6L1105 420.7L1107 420.7L1109 420.5L1111 420.5L1113 420.7L1115 420.6L1117 420.7L1119 420.9L1121 421.0L1123 421.1L1125 421.0L1127 420.9L1129 420.8L1131 420.9L1133 420.6L1135 420.2L1137 420.3L1139 420.9L1141 421.0L1143 420.9L1145 421.2L1147 421.3L1149 421.0L1151 421.0L1153 421.3L1155 421.0L1157 420.6L1159 420.1L1161 419.5L1163 419.3L1165 419.5L1167 419.8L1169 420.0L1171 420.4L1173 420.8L1175 420.7L1177 420.5L1179 420.5L1181 420.5L1183 420.6L1185 420.9L1187 421.0L1189 421.0L1191 420.9L1193 420.7L1195 420.7L1197 420.7L1199 420.9L1201 421.4L1203 421.5L1205 421.1L1207 420.8L1209 421.0L1211 421.4L1213 421.3L1215 420.8L1217 420.4L1219 420.6L1220 421.0L1221 421.3L1222 421.0L1223 420.7L1224 420.8L1225 420.8L1226 420.6L1227 420.5L1228 420.4L1229 420.1L1229.5 420.0L1230 420.0L1230.5 419.8L1231 419.7L1231.5 419.3L1232 419.0L1232.5 419.0L1233 418.9L1233.5 418.5L1234 418.1L1234.5 417.7L1235 417.1L1235.5 416.3L1236 415.4L1236.5 414.6L1237 413.5L1237.5 412.0L1238 410.8L1238.5 410.0L1239 409.1L1239.5 408.3L1240 407.9L1240.5 407.5L1241 407.7L1241.5 408.4L1242 408.9L1242.5 409.7L1243 410.4L1243.5 411.0L1244 411.7L1244.5 412.4L1245 413.0L1245.5 413.3L1246 414.0L1246.5 415.1L1247 415.7L1247.5 416.3L1248 417.1L1248.5 417.6L1249 418.0L1249.5 418.4L1250 418.7L1250.5 418.7L1251 419.0L1251.5 419.5L1252 419.8L1252.5 420.2L1253 420.5L1253.5 420.3L1254 420.3L1254.5 420.5L1255 420.5L1255.5 420.5L1256 420.4L1256.5 420.5L1257.5 421.0L1258.5 421.1L1259.5 420.8L1260.5 420.7L1261.5 421.0L1262.5 421.2L1263.5 421.3L1264.5 421.2L1265.5 421.1L1266.5 421.0L1268.5 421.3L1270.5 421.6L1272.5 421.5L1274.5 421.2L1276.5 421.3L1278.5 421.4L1280.5 421.4L1282.5 421.3L1284.5 421.4L1286.5 421.4L1288.5 421.4L1290.5 421.5L1292.5 421.4L1294.5 421.4L1296.5 421.4L1298.5 421.3L1300.5 421.3L1302.5 421.6L1304.5 421.6L1306.5 421.4L1308.5 421.4L1310.5 421.5L1312.5 421.3L1314.5 421.2L1316.5 421.5L1318.5 421.6L1320.5 421.3L1322.5 421.1L1324.5 421.2L1326.5 421.2L1328.5 421.2L1330.5 421.2L1332.5 421.3L1334.5 421.5L1336.5 421.6L1338.5 421.6L1340.5 421.4L1342.5 421.3L1344.5 421.5L1346.5 421.5L1348.5 421.5L1350.5 421.6L1352.5 421.4L1354.5 421.3L1356.5 421.2L1358.5 421.4L1360.5 421.7L1362.5 421.6L1364.5 421.3L1366.5 421.1L1367.5 420.9L1368.5 421.0L1369.5 421.0L1370.5 421.2L1371.5 421.3L1372.5 421.1L1373.5 421.0L1374.5 421.2L1375.5 421.1L1376 420.9L1376.5 420.8L1377 420.7L1377.5 420.5L1378 420.4L1378.5 420.2L1379 419.5L1379.5 418.9L1380 418.9L1380.5 418.8L1381 418.8L1381.5 418.5L1382 417.9L1382.5 417.4L1383 417.2L1383.5 416.7L1384 415.7L1384.5 414.9L1385 414.3L1385.5 413.7L1386 412.8L1386.5 412.3L1387 412.3L1387.5 412.6L1388 412.8L1388.5 413.0L1389 413.4L1389.5 414.0L1390 414.6L1390.5 415.2L1391 415.7L1391.5 416.0L1392 416.2L1392.5 416.3L1393 416.7L1393.5 417.1L1394 417.7L1394.5 418.3L1395 418.6L1395.5 418.7L1396 418.9L1396.5 419.3L1397 419.6L1397.5 419.9L1398 420.2L1398.5 420.0L1399 420.1L1399.5 420.5L1400 420.7L1400.5 420.5L1401 420.5L1401.5 420.7L1402 421.1L1402.5 421.4L1403 421.5L1404 421.3L1405 420.9L1406 420.9L1407 421.3L1408 421.5L1409 421.3L1410 420.9L1411 420.7L1412 420.9L1413 421.2L1415 421.4L1417 421.3L1419 421.2L1421 421.2L1423 421.3L1425 421.6L1427 421.5L1429 421.2L1431 420.9L1433 420.8L1435 420.6L1436 420.5L1437 420.5L1438 420.4L1439 420.1L1440 419.6L1441 419.4L1442 419.5L1443 419.3L1444 418.5L1445 417.9L1445.5 417.7L1446 417.4L1446.5 417.1L1447 416.7L1447.5 416.2L1448 415.5L1448.5 414.6L1449 413.8L1449.5 412.8L1450 411.6L1450.5 410.0L1451 408.2L1451.5 406.0L1452 403.1L1452.5 399.4L1453 395.6L1453.5 391.5L1454 387.0L1454.5 382.3L1455 377.8L1455.5 374.2L1456 371.6L1456.5 370.3L1457 371.2L1457.5 373.7L1458 376.6L1458.5 379.7L1459 382.7L1459.5 385.5L1460 387.9L1460.5 389.5L1461 390.9L1461.5 392.4L1462 394.2L1462.5 396.6L1463 399.1L1463.5 401.6L1464 403.7L1464.5 405.8L1465 408.1L1465.5 410.2L1466 411.7L1466.5 413.0L1467 414.0L1467.5 415.0L1468 415.9L1468.5 416.5L1469 416.9L1469.5 417.4L1470 418.1L1470.5 418.4L1471 418.3L1471.5 418.1L1472 418.3L1472.5 418.9L1473.5 419.5L1474.5 419.8L1475.5 419.7L1476.5 419.8L1477.5 420.2L1478.5 420.3L1479.5 420.3L1480.5 420.2L1481.5 420.4L1482.5 420.9L1484.5 421.2L1486.5 421.1L1488.5 420.9L1490.5 421.0L1492.5 421.2L1494.5 421.1L1496.5 421.1L1498.5 421.2L1500.5 421.3L1502.5 421.4L1504.5 421.6L1506.5 421.7L1508.5 421.7L1510.5 421.4L1512.5 420.9L1514.5 420.9L1516.5 421.3L1518.5 421.3L1520.5 421.0L1522.5 420.8L1524.5 420.3L1526.5 419.8L1528.5 419.6L1530.5 419.7L1532.5 419.8L1534.5 420.3L1536.5 420.6L1538.5 420.9L1540.5 421.2L1542.5 421.4L1544.5 421.3L1546.5 421.2L1548.5 421.3L1550.5 421.5L1552.5 421.6L1554.5 421.6L1556.5 421.3L1558.5 421.3L1560.5 421.6L1562.5 421.7L1564.5 421.7L1566.5 421.5L1568.5 421.6L1570.5 421.7L1572.5 421.5L1574.5 421.1L1576.5 421.2L1578.5 421.3L1580.5 421.0L1582.5 420.8L1584.5 420.7L1586.5 420.3L1588.5 419.8L1590.5 419.6L1592.5 419.5L1594.5 419.4L1596.5 419.6L1598.5 420.1L1600.5 420.6L1602.5 421.0L1604.5 421.4L1606.5 421.4L1608.5 421.1L1610.5 421.2L1612.5 421.5L1614.5 421.5L1616.5 421.2L1618.5 421.1L1620.5 421.3L1622.5 421.3L1624.5 421.1L1626.5 421.1L1628.5 420.9L1630.5 420.8L1632.5 421.2L1634.5 421.3L1636.5 421.0L1637.5 420.5L1638.5 420.3L1639.5 420.4L1640.5 420.3L1641.5 420.1L1642.5 420.1L1643.5 420.1L1644.5 419.7L1645.5 419.4L1646 419.4L1646.5 419.3L1647 419.2L1647.5 419.2L1648 418.9L1648.5 418.8L1649 418.6L1649.5 418.1L1650 417.6L1650.5 417.5L1651 417.1L1651.5 416.0L1652 415.1L1652.5 414.3L1653 413.4L1653.5 412.7L1654 411.9L1654.5 411.0L1655 409.9L1655.5 408.8L1656 408.0L1656.5 407.0L1657 405.9L1657.5 405.5L1658 405.8L1658.5 406.4L1659 406.9L1659.5 407.3L1660 408.0L1660.5 408.9L1661 409.5L1661.5 410.0L1662 410.6L1662.5 411.0L1663 411.3L1663.5 411.8L1664 412.3L1664.5 413.2L1665 413.8L1665.5 414.0L1666 414.5L1666.5 415.4L1667 416.2L1667.5 416.8L1668 417.5L1668.5 418.0L1669 418.4L1669.5 418.6L1670 418.6L1670.5 418.8L1671 419.0L1671.5 419.3L1672 419.7L1672.5 419.7L1673 419.5L1673.5 419.5L1674.5 420.1L1675.5 420.6L1676.5 420.4L1677.5 420.3L1678.5 420.1L1679.5 420.1L1680.5 420.4L1681.5 420.6L1682.5 420.9L1683.5 420.9L1685.5 420.7L1687.5 420.9L1689.5 421.1L1691.5 421.0L1693.5 420.9L1695.5 420.9L1697.5 421.0L1699.5 421.2L1701.5 421.1L1703.5 420.8L1705.5 420.6L1707.5 420.5L1709.5 420.6L1711.5 420.7L1713.5 420.3L1715.5 419.8L1717.5 419.2L1719.5 418.4L1721.5 417.9L1723.5 418.1L1725.5 418.5L1727.5 419.0L1729.5 419.4L1731.5 419.8L1733.5 420.3L1735.5 420.7L1737.5 421.0L1739.5 420.7L1741.5 420.8L1743.5 421.0L1745.5 421.0L1747.5 421.1L1749.5 420.9L1751.5 420.5L1753.5 420.4L1755.5 420.8L1757.5 421.0L1759.5 420.8L1761.5 420.8L1763.5 420.9L1765.5 421.0L1767.5 420.9L1769.5 420.8L1771.5 420.7L1773.5 420.4L1775.5 420.2L1777.5 419.7L1779.5 418.5L1781.5 417.2L1783.5 416.3L1785.5 416.1L1787.5 416.6L1789.5 417.1L1791.5 417.6L1793.5 418.3L1795.5 418.7L1797.5 419.2L1799.5 419.7L1801.5 420.1L1803.5 420.3L1805.5 420.2L1807.5 420.1L1809.5 420.1L1811.5 420.0L1813.5 420.0L1815.5 419.8L1817.5 419.7L1819.5 419.7L1821.5 419.4L1823.5 419.1L1825.5 418.6L1826.5 418.2L1827.5 417.9L1828.5 417.7L1829.5 417.4L1830.5 416.9L1831.5 416.5L1832.5 415.9L1833.5 414.9L1834.5 413.9L1835.5 412.8L1836 412.0L1836.5 411.7L1837 411.3L1837.5 410.3L1838 409.1L1838.5 407.9L1839 406.5L1839.5 404.5L1840 402.4L1840.5 400.4L1841 397.9L1841.5 394.8L1842 391.3L1842.5 387.5L1843 382.9L1843.5 377.4L1844 371.7L1844.5 365.4L1845 358.5L1845.5 352.2L1846 347.0L1846.5 342.8L1847 340.3L1847.5 340.2L1848 342.3L1848.5 345.7L1849 349.8L1849.5 354.3L1850 358.9L1850.5 363.1L1851 366.2L1851.5 368.5L1852 370.4L1852.5 372.1L1853 373.8L1853.5 375.5L1854 377.6L1854.5 380.3L1855 383.3L1855.5 386.5L1856 389.7L1856.5 392.8L1857 395.5L1857.5 398.2L1858 400.8L1858.5 402.8L1859 404.5L1859.5 406.3L1860 408.0L1860.5 409.1L1861 410.2L1861.5 411.5L1862 412.4L1862.5 412.8L1863 413.3L1863.5 414.0L1864.5 415.0L1865.5 415.6L1866.5 416.1L1867.5 416.7L1868.5 417.2L1869.5 417.4L1870.5 417.5L1871.5 417.7L1872.5 418.2L1873.5 418.7L1875.5 419.2L1877.5 419.3L1879.5 419.5L1881.5 419.9L1883.5 420.0L1885.5 420.0L1887.5 419.9L1888.5 419.6L1889.5 419.4L1890.5 419.5L1891.5 419.6L1892.5 419.7L1893.5 419.9L1894.5 419.8L1895.5 419.3L1896.5 418.8L1897 418.7L1897.5 418.8L1898 418.7L1898.5 418.5L1899 418.2L1899.5 418.2L1900 418.1L1900.5 417.8L1901 417.3L1901.5 416.8L1902 416.5L1902.5 416.4L1903 416.0L1903.5 415.5L1904 414.9L1904.5 414.3L1905 413.6L1905.5 412.7L1906 411.6L1906.5 410.8L1907 410.5L1907.5 410.4L1908 410.0L1908.5 409.7L1909 409.8L1909.5 410.2L1910 410.4L1910.5 410.6L1911 411.2L1911.5 411.9L1912 412.6L1912.5 413.0L1913 413.3L1913.5 413.6L1914 413.5L1914.5 413.3L1915 413.6L1915.5 414.0L1916 414.4L1916.5 415.3L1917 415.9L1917.5 416.2L1918 416.6L1918.5 417.2L1919 417.6L1919.5 417.6L1920 417.7L1920.5 417.8L1921 418.4L1921.5 418.9L1922 419.0L1922.5 419.0L1923 419.1L1923.5 419.1L1924 419.1L1924.5 419.2L1925.5 419.6L1926.5 419.8L1927.5 420.0L1928.5 420.0L1929.5 420.2L1930.5 420.3L1931.5 420.3L1932.5 420.5L1933.5 420.6L1934.5 420.4L1936.5 420.4L1938.5 420.7L1940.5 420.8L1942.5 420.7L1944.5 420.8L1946.5 420.7L1948.5 420.7L1950.5 420.9L1952.5 421.1L1954.5 421.4L1956.5 421.3L1958.5 421.0L1960.5 420.9L1962.5 420.8L1964.5 420.5L1966.5 419.9L1968.5 419.3L1970.5 419.2L1972.5 419.3L1974.5 419.4L1976.5 419.7L1978.5 419.9L1980.5 420.2L1982.5 420.4L1984.5 420.4L1986.5 420.5L1988.5 420.8L1990.5 420.7L1992.5 420.7L1994.5 420.9L1996.5 421.2L1998.5 421.2L2000.5 420.9L2002.5 420.8L2004.5 420.7L2006.5 420.9L2008.5 421.0L2010.5 421.0L2012.5 421.1L2014.5 420.9L2016.5 420.6L2018.5 420.9L2020.5 421.2L2022.5 420.9L2024.5 420.7L2026.5 420.8L2028.5 420.9L2030.5 420.6L2032.5 420.5L2034.5 420.6L2036.5 420.6L2038.5 420.5L2040.5 420.6L2042.5 420.4L2044.5 420.4L2046.5 420.6L2048.5 420.8L2050.5 420.8L2052.5 421.0L2054.5 421.2L2056.5 421.3L2058.5 421.2L2060.5 421.0L2062.5 421.1L2064.5 421.2L2066.5 421.0L2068.5 421.3L2070.5 421.4L2072.5 421.1L2074.5 421.3L2076.5 421.6L2078.5 421.6L2080.5 421.3L2082.5 421.3L2084.5 421.6L2086.5 421.4L2088.5 421.0L2090.5 421.1L2092.5 421.6L2094.5 421.7L2096.5 421.5L2098.5 421.5L2100.5 421.4L2102.5 421.5L2104.5 421.7L2106.5 421.3L2108.5 421.1L2110.5 421.2L2112.5 421.1L2114.5 421.1L2116.5 421.2L2118.5 421.3L2120.5 421.3L2122.5 421.2L2124.5 421.0L2126.5 420.8L2128.5 420.6L2130.5 420.3L2132.5 420.2L2134.5 420.1L2136.5 420.0L2138.5 419.4L2140.5 418.4L2142.5 417.0L2144.5 416.4L2146.5 417.1L2148.5 418.0L2150.5 418.6L2152.5 418.9L2154.5 419.5L2156.5 420.0L2158.5 420.3L2160.5 420.9L2162.5 421.4L2164.5 421.6L2166.5 421.4L2168.5 421.3L2170.5 421.3L2172.5 421.2L2174.5 421.0L2176.5 421.0L2178.5 421.1L2180.5 421.2L2182.5 421.3L2184.5 421.4L2186.5 421.4L2188.5 421.4L2190.5 421.4L2192.5 421.4L2194.5 421.5L2196.5 421.5L2198.5 421.4L2200.5 421.3L2202.5 420.9L2204.5 420.8L2206.5 420.9L2208.5 421.0L2210.5 421.0L2212.5 420.9L2214.5 420.9L2216.5 421.1L2218.5 420.9L2220.5 420.9L2222.5 421.2L2223 421.4"/>
<g fill="#000" shape-rendering="crispEdges">
<rect x="177" y="68" width="8" height="1534"/>
<rect x="2240" y="68" width="8" height="1534"/>
<rect x="177" y="1594" width="2071" height="8"/>
<rect x="197" y="1568" width="8" height="27"/>
<rect x="601" y="1568" width="9" height="27"/>
<rect x="1005" y="1568" width="9" height="27"/>
<rect x="1410" y="1568" width="8" height="27"/>
<rect x="1815" y="1568" width="8" height="27"/>
<rect x="2219" y="1568" width="8" height="27"/>
</g>
<g class="ser" font-size="64" text-anchor="middle" fill="#000">
<text transform="translate(201.0 1682) scale(1 1.05)">20</text>
<text transform="translate(605.4 1682) scale(1 1.05)">30</text>
<text transform="translate(1009.8 1682) scale(1 1.05)">40</text>
<text transform="translate(1414.2 1682) scale(1 1.05)">50</text>
<text transform="translate(1818.6 1682) scale(1 1.05)">60</text>
<text transform="translate(2223.0 1682) scale(1 1.05)">70</text>
</g>
<text class="ser" font-size="79" text-anchor="middle" x="1212.8" y="1812.6">Diffraction Angle 2θ</text>
<text class="ser" font-size="79" text-anchor="middle" transform="translate(83.3 834.2) rotate(-90)">Intensity (a.u.)</text>
<text class="ser" font-size="78.4" text-anchor="end" fill="#C99700" transform="translate(2192.4 503.1) scale(1 1.03)">300 nm</text>
<text class="ser" font-size="78.4" text-anchor="end" fill="#AF78DE" transform="translate(2192.4 666.0) scale(1 1.03)">250 nm</text>
<text class="ser" font-size="78.4" text-anchor="end" fill="#36AB6B" transform="translate(2189.2 893.0) scale(1 1.03)">200 nm</text>
<text class="ser" font-size="78.4" text-anchor="end" fill="#196CDD" transform="translate(2186.9 1176.2) scale(1 1.03)">150 nm</text>
<text class="ser" font-size="78.4" text-anchor="end" fill="#EF3F3F" transform="translate(2192.4 1401.9) scale(1 1.03)">100 nm</text>
<text class="ser" font-size="78.4" text-anchor="end" fill="#000" transform="translate(2186.0 1574.1) scale(1 1.03)">50 nm</text>
<g class="san" font-size="57.1" text-anchor="middle" fill="#000">
<text transform="translate(280.2 272.6) rotate(-90)">(211)</text>
<text transform="translate(655.7 249.0) rotate(-90)">(222)</text>
<text transform="translate(843.0 88.5) rotate(-90)">(400)</text>
<text transform="translate(938.6 299.0) rotate(-90)">(411)</text>
<text transform="translate(1261.2 318.6) rotate(-90)">(431)</text>
<text transform="translate(1396.2 330.4) rotate(-90)">(521)</text>
<text transform="translate(1480.0 284.4) rotate(-90)">(440)</text>
<text transform="translate(1680.4 318.5) rotate(-90)">(611)</text>
<text transform="translate(1868.0 257.0) rotate(-90)">(622)</text>
<text transform="translate(1938.0 323.7) rotate(-90)">(444)</text>
<text transform="translate(2164.7 330.5) rotate(-90)">(800)</text>
</g>
</svg></body></html>
